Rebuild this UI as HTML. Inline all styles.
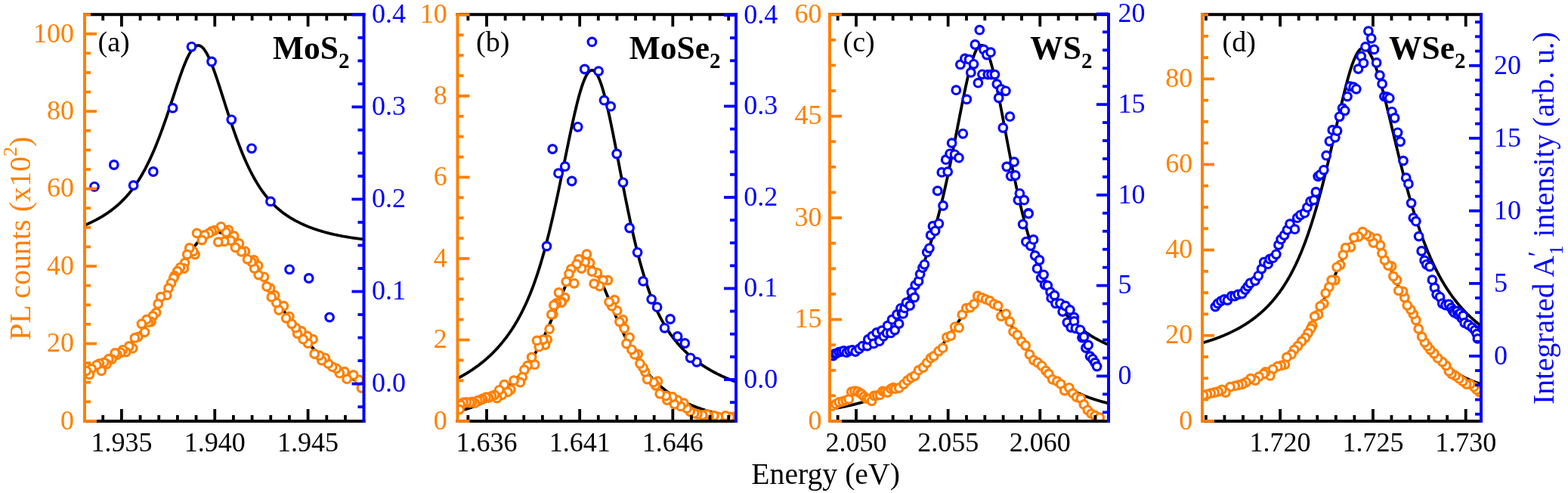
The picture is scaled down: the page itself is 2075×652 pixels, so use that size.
<!DOCTYPE html>
<html><head><meta charset="utf-8"><title>PL spectra</title>
<style>html,body{margin:0;padding:0;background:#fff;}svg{display:block;}</style></head>
<body><svg width="2075" height="652" viewBox="0 0 2075 652" font-family="'Liberation Serif', serif">
<rect width="2075" height="652" fill="#fff"/>
<clipPath id="clip0"><rect x="112" y="19.2" width="369.5" height="537.8"/></clipPath>
<g clip-path="url(#clip0)">
<path d="M110.0,298.8 L111.0,298.4 L112.0,297.9 L113.0,297.5 L114.0,297.1 L115.0,296.6 L116.0,296.2 L117.0,295.8 L118.0,295.3 L119.0,294.8 L120.0,294.4 L121.0,293.9 L122.0,293.4 L123.0,292.9 L124.0,292.4 L125.0,291.9 L126.0,291.4 L127.0,290.9 L128.0,290.3 L129.0,289.8 L130.0,289.2 L131.0,288.7 L132.0,288.1 L133.0,287.5 L134.0,287.0 L135.0,286.4 L136.0,285.8 L137.0,285.1 L138.0,284.5 L139.0,283.9 L140.0,283.2 L141.0,282.6 L142.0,281.9 L143.0,281.2 L144.0,280.5 L145.0,279.8 L146.0,279.1 L147.0,278.4 L148.0,277.6 L149.0,276.8 L150.0,276.1 L151.0,275.3 L152.0,274.5 L153.0,273.6 L154.0,272.8 L155.0,271.9 L156.0,271.1 L157.0,270.2 L158.0,269.3 L159.0,268.3 L160.0,267.4 L161.0,266.4 L162.0,265.4 L163.0,264.4 L164.0,263.4 L165.0,262.4 L166.0,261.3 L167.0,260.2 L168.0,259.1 L169.0,257.9 L170.0,256.8 L171.0,255.6 L172.0,254.3 L173.0,253.1 L174.0,251.8 L175.0,250.5 L176.0,249.2 L177.0,247.8 L178.0,246.4 L179.0,245.0 L180.0,243.6 L181.0,242.1 L182.0,240.6 L183.0,239.0 L184.0,237.5 L185.0,235.8 L186.0,234.2 L187.0,232.5 L188.0,230.8 L189.0,229.0 L190.0,227.2 L191.0,225.4 L192.0,223.6 L193.0,221.7 L194.0,219.7 L195.0,217.7 L196.0,215.7 L197.0,213.7 L198.0,211.6 L199.0,209.4 L200.0,207.3 L201.0,205.0 L202.0,202.8 L203.0,200.5 L204.0,198.2 L205.0,195.8 L206.0,193.4 L207.0,190.9 L208.0,188.4 L209.0,185.9 L210.0,183.4 L211.0,180.7 L212.0,178.1 L213.0,175.4 L214.0,172.7 L215.0,170.0 L216.0,167.2 L217.0,164.4 L218.0,161.6 L219.0,158.7 L220.0,155.8 L221.0,152.9 L222.0,149.9 L223.0,147.0 L224.0,144.0 L225.0,141.0 L226.0,137.9 L227.0,134.9 L228.0,131.9 L229.0,128.8 L230.0,125.8 L231.0,122.8 L232.0,119.7 L233.0,116.7 L234.0,113.7 L235.0,110.7 L236.0,107.8 L237.0,104.8 L238.0,101.9 L239.0,99.1 L240.0,96.3 L241.0,93.5 L242.0,90.9 L243.0,88.2 L244.0,85.7 L245.0,83.2 L246.0,80.9 L247.0,78.6 L248.0,76.4 L249.0,74.3 L250.0,72.4 L251.0,70.6 L252.0,68.9 L253.0,67.3 L254.0,65.9 L255.0,64.6 L256.0,63.5 L257.0,62.5 L258.0,61.7 L259.0,61.1 L260.0,60.6 L261.0,60.3 L262.0,60.1 L263.0,60.2 L264.0,60.4 L265.0,60.8 L266.0,61.3 L267.0,62.0 L268.0,62.9 L269.0,63.9 L270.0,65.1 L271.0,66.5 L272.0,68.0 L273.0,69.6 L274.0,71.4 L275.0,73.3 L276.0,75.4 L277.0,77.5 L278.0,79.8 L279.0,82.1 L280.0,84.6 L281.0,87.2 L282.0,89.8 L283.0,92.5 L284.0,95.3 L285.0,98.2 L286.0,101.1 L287.0,104.0 L288.0,107.0 L289.0,110.1 L290.0,113.1 L291.0,116.2 L292.0,119.3 L293.0,122.5 L294.0,125.6 L295.0,128.7 L296.0,131.9 L297.0,135.0 L298.0,138.2 L299.0,141.3 L300.0,144.4 L301.0,147.5 L302.0,150.6 L303.0,153.7 L304.0,156.7 L305.0,159.8 L306.0,162.7 L307.0,165.7 L308.0,168.6 L309.0,171.5 L310.0,174.4 L311.0,177.2 L312.0,180.0 L313.0,182.8 L314.0,185.5 L315.0,188.2 L316.0,190.8 L317.0,193.4 L318.0,196.0 L319.0,198.5 L320.0,201.0 L321.0,203.4 L322.0,205.8 L323.0,208.2 L324.0,210.5 L325.0,212.8 L326.0,215.0 L327.0,217.2 L328.0,219.3 L329.0,221.4 L330.0,223.5 L331.0,225.5 L332.0,227.5 L333.0,229.4 L334.0,231.3 L335.0,233.2 L336.0,235.0 L337.0,236.8 L338.0,238.5 L339.0,240.2 L340.0,241.9 L341.0,243.5 L342.0,245.1 L343.0,246.7 L344.0,248.2 L345.0,249.7 L346.0,251.2 L347.0,252.6 L348.0,254.0 L349.0,255.3 L350.0,256.7 L351.0,258.0 L352.0,259.2 L353.0,260.5 L354.0,261.7 L355.0,262.9 L356.0,264.0 L357.0,265.2 L358.0,266.3 L359.0,267.3 L360.0,268.4 L361.0,269.4 L362.0,270.4 L363.0,271.4 L364.0,272.4 L365.0,273.3 L366.0,274.3 L367.0,275.2 L368.0,276.0 L369.0,276.9 L370.0,277.7 L371.0,278.6 L372.0,279.4 L373.0,280.2 L374.0,280.9 L375.0,281.7 L376.0,282.4 L377.0,283.1 L378.0,283.9 L379.0,284.5 L380.0,285.2 L381.0,285.9 L382.0,286.5 L383.0,287.2 L384.0,287.8 L385.0,288.4 L386.0,289.0 L387.0,289.6 L388.0,290.2 L389.0,290.8 L390.0,291.3 L391.0,291.9 L392.0,292.4 L393.0,292.9 L394.0,293.4 L395.0,293.9 L396.0,294.4 L397.0,294.9 L398.0,295.4 L399.0,295.9 L400.0,296.3 L401.0,296.8 L402.0,297.2 L403.0,297.7 L404.0,298.1 L405.0,298.5 L406.0,298.9 L407.0,299.4 L408.0,299.8 L409.0,300.2 L410.0,300.5 L411.0,300.9 L412.0,301.3 L413.0,301.7 L414.0,302.0 L415.0,302.4 L416.0,302.7 L417.0,303.1 L418.0,303.4 L419.0,303.7 L420.0,304.1 L421.0,304.4 L422.0,304.7 L423.0,305.0 L424.0,305.3 L425.0,305.6 L426.0,305.9 L427.0,306.2 L428.0,306.5 L429.0,306.8 L430.0,307.1 L431.0,307.3 L432.0,307.6 L433.0,307.9 L434.0,308.1 L435.0,308.4 L436.0,308.6 L437.0,308.9 L438.0,309.1 L439.0,309.3 L440.0,309.6 L441.0,309.8 L442.0,310.0 L443.0,310.3 L444.0,310.5 L445.0,310.7 L446.0,310.9 L447.0,311.1 L448.0,311.3 L449.0,311.5 L450.0,311.7 L451.0,311.9 L452.0,312.1 L453.0,312.3 L454.0,312.5 L455.0,312.7 L456.0,312.8 L457.0,313.0 L458.0,313.2 L459.0,313.4 L460.0,313.5 L461.0,313.7 L462.0,313.8 L463.0,314.0 L464.0,314.2 L465.0,314.3 L466.0,314.5 L467.0,314.6 L468.0,314.8 L469.0,314.9 L470.0,315.0 L471.0,315.2 L472.0,315.3 L473.0,315.4 L474.0,315.6 L475.0,315.7 L476.0,315.8 L477.0,316.0 L478.0,316.1 L479.0,316.2 L480.0,316.3 L481.0,316.4 L482.0,316.6 L483.0,316.7" fill="none" stroke="#000" stroke-width="3.8" stroke-linejoin="round"/>
<path d="M110.0,491.9 L111.0,491.6 L112.0,491.4 L113.0,491.1 L114.0,490.8 L115.0,490.5 L116.0,490.2 L117.0,489.9 L118.0,489.6 L119.0,489.3 L120.0,489.0 L121.0,488.7 L122.0,488.3 L123.0,488.0 L124.0,487.6 L125.0,487.3 L126.0,486.9 L127.0,486.5 L128.0,486.1 L129.0,485.7 L130.0,485.3 L131.0,484.8 L132.0,484.4 L133.0,483.9 L134.0,483.5 L135.0,483.0 L136.0,482.5 L137.0,482.0 L138.0,481.5 L139.0,481.0 L140.0,480.4 L141.0,479.9 L142.0,479.3 L143.0,478.7 L144.0,478.2 L145.0,477.5 L146.0,476.9 L147.0,476.3 L148.0,475.7 L149.0,475.0 L150.0,474.3 L151.0,473.6 L152.0,472.9 L153.0,472.2 L154.0,471.5 L155.0,470.7 L156.0,470.0 L157.0,469.2 L158.0,468.4 L159.0,467.6 L160.0,466.8 L161.0,465.9 L162.0,465.1 L163.0,464.2 L164.0,463.3 L165.0,462.4 L166.0,461.5 L167.0,460.5 L168.0,459.6 L169.0,458.6 L170.0,457.6 L171.0,456.6 L172.0,455.6 L173.0,454.5 L174.0,453.4 L175.0,452.4 L176.0,451.3 L177.0,450.2 L178.0,449.0 L179.0,447.9 L180.0,446.7 L181.0,445.5 L182.0,444.3 L183.0,443.1 L184.0,441.9 L185.0,440.6 L186.0,439.3 L187.0,438.0 L188.0,436.7 L189.0,435.4 L190.0,434.1 L191.0,432.7 L192.0,431.3 L193.0,429.9 L194.0,428.5 L195.0,427.1 L196.0,425.7 L197.0,424.2 L198.0,422.7 L199.0,421.3 L200.0,419.8 L201.0,418.2 L202.0,416.7 L203.0,415.2 L204.0,413.6 L205.0,412.0 L206.0,410.4 L207.0,408.8 L208.0,407.2 L209.0,405.6 L210.0,404.0 L211.0,402.3 L212.0,400.7 L213.0,399.0 L214.0,397.3 L215.0,395.6 L216.0,393.9 L217.0,392.2 L218.0,390.5 L219.0,388.8 L220.0,387.1 L221.0,385.3 L222.0,383.6 L223.0,381.9 L224.0,380.1 L225.0,378.4 L226.0,376.6 L227.0,374.9 L228.0,373.1 L229.0,371.4 L230.0,369.6 L231.0,367.9 L232.0,366.1 L233.0,364.4 L234.0,362.6 L235.0,360.9 L236.0,359.2 L237.0,357.5 L238.0,355.7 L239.0,354.0 L240.0,352.3 L241.0,350.7 L242.0,349.0 L243.0,347.3 L244.0,345.7 L245.0,344.1 L246.0,342.5 L247.0,340.9 L248.0,339.3 L249.0,337.8 L250.0,336.2 L251.0,334.7 L252.0,333.3 L253.0,331.8 L254.0,330.4 L255.0,329.0 L256.0,327.6 L257.0,326.3 L258.0,325.0 L259.0,323.7 L260.0,322.5 L261.0,321.3 L262.0,320.2 L263.0,319.0 L264.0,318.0 L265.0,316.9 L266.0,315.9 L267.0,315.0 L268.0,314.1 L269.0,313.2 L270.0,312.4 L271.0,311.7 L272.0,311.0 L273.0,310.3 L274.0,309.7 L275.0,309.1 L276.0,308.6 L277.0,308.2 L278.0,307.8 L279.0,307.4 L280.0,307.2 L281.0,306.9 L282.0,306.7 L283.0,306.6 L284.0,306.6 L285.0,306.6 L286.0,306.6 L287.0,306.7 L288.0,306.8 L289.0,307.0 L290.0,307.2 L291.0,307.5 L292.0,307.7 L293.0,308.1 L294.0,308.4 L295.0,308.8 L296.0,309.3 L297.0,309.7 L298.0,310.2 L299.0,310.8 L300.0,311.4 L301.0,312.0 L302.0,312.6 L303.0,313.3 L304.0,314.0 L305.0,314.8 L306.0,315.6 L307.0,316.4 L308.0,317.2 L309.0,318.1 L310.0,319.0 L311.0,320.0 L312.0,320.9 L313.0,321.9 L314.0,322.9 L315.0,324.0 L316.0,325.1 L317.0,326.2 L318.0,327.3 L319.0,328.4 L320.0,329.6 L321.0,330.8 L322.0,332.0 L323.0,333.3 L324.0,334.5 L325.0,335.8 L326.0,337.1 L327.0,338.4 L328.0,339.7 L329.0,341.1 L330.0,342.5 L331.0,343.8 L332.0,345.2 L333.0,346.6 L334.0,348.1 L335.0,349.5 L336.0,350.9 L337.0,352.4 L338.0,353.8 L339.0,355.3 L340.0,356.8 L341.0,358.3 L342.0,359.8 L343.0,361.3 L344.0,362.8 L345.0,364.3 L346.0,365.9 L347.0,367.4 L348.0,368.9 L349.0,370.5 L350.0,372.0 L351.0,373.6 L352.0,375.1 L353.0,376.6 L354.0,378.2 L355.0,379.7 L356.0,381.3 L357.0,382.8 L358.0,384.4 L359.0,385.9 L360.0,387.5 L361.0,389.0 L362.0,390.6 L363.0,392.1 L364.0,393.6 L365.0,395.2 L366.0,396.7 L367.0,398.2 L368.0,399.7 L369.0,401.3 L370.0,402.8 L371.0,404.3 L372.0,405.8 L373.0,407.3 L374.0,408.7 L375.0,410.2 L376.0,411.7 L377.0,413.2 L378.0,414.6 L379.0,416.1 L380.0,417.5 L381.0,418.9 L382.0,420.3 L383.0,421.8 L384.0,423.2 L385.0,424.6 L386.0,425.9 L387.0,427.3 L388.0,428.7 L389.0,430.0 L390.0,431.4 L391.0,432.7 L392.0,434.1 L393.0,435.4 L394.0,436.7 L395.0,438.0 L396.0,439.2 L397.0,440.5 L398.0,441.8 L399.0,443.0 L400.0,444.3 L401.0,445.5 L402.0,446.7 L403.0,447.9 L404.0,449.1 L405.0,450.3 L406.0,451.5 L407.0,452.6 L408.0,453.8 L409.0,454.9 L410.0,456.0 L411.0,457.1 L412.0,458.2 L413.0,459.3 L414.0,460.4 L415.0,461.5 L416.0,462.5 L417.0,463.6 L418.0,464.6 L419.0,465.6 L420.0,466.6 L421.0,467.6 L422.0,468.6 L423.0,469.5 L424.0,470.5 L425.0,471.4 L426.0,472.4 L427.0,473.3 L428.0,474.2 L429.0,475.1 L430.0,476.0 L431.0,476.9 L432.0,477.7 L433.0,478.6 L434.0,479.4 L435.0,480.2 L436.0,481.0 L437.0,481.9 L438.0,482.7 L439.0,483.4 L440.0,484.2 L441.0,485.0 L442.0,485.7 L443.0,486.5 L444.0,487.2 L445.0,487.9 L446.0,488.6 L447.0,489.3 L448.0,490.0 L449.0,490.7 L450.0,491.4 L451.0,492.0 L452.0,492.7 L453.0,493.3 L454.0,493.9 L455.0,494.5 L456.0,495.2 L457.0,495.8 L458.0,496.4 L459.0,496.9 L460.0,497.5 L461.0,498.1 L462.0,498.6 L463.0,499.2 L464.0,499.7 L465.0,500.2 L466.0,500.8 L467.0,501.3 L468.0,501.8 L469.0,502.3 L470.0,502.8 L471.0,503.3 L472.0,503.7 L473.0,504.2 L474.0,504.7 L475.0,505.1 L476.0,505.6 L477.0,506.0 L478.0,506.4 L479.0,506.8 L480.0,507.3 L481.0,507.7 L482.0,508.1 L483.0,508.5" fill="none" stroke="#000" stroke-width="3.8" stroke-linejoin="round"/>
<g fill="#fff" stroke="#FF8000" stroke-width="3.2">
<circle cx="478.4" cy="513.0" r="5.3"/>
<circle cx="475.2" cy="502.3" r="5.3"/>
<circle cx="467.7" cy="495.9" r="5.3"/>
<circle cx="459.1" cy="501.2" r="5.3"/>
<circle cx="455.9" cy="491.6" r="5.3"/>
<circle cx="449.4" cy="493.7" r="5.3"/>
<circle cx="445.2" cy="487.3" r="5.3"/>
<circle cx="439.8" cy="485.2" r="5.3"/>
<circle cx="434.4" cy="480.9" r="5.3"/>
<circle cx="430.1" cy="473.3" r="5.3"/>
<circle cx="425.8" cy="476.6" r="5.3"/>
<circle cx="422.6" cy="470.1" r="5.3"/>
<circle cx="416.2" cy="468.0" r="5.3"/>
<circle cx="414.0" cy="448.7" r="5.3"/>
<circle cx="407.6" cy="454.0" r="5.3"/>
<circle cx="406.5" cy="444.4" r="5.3"/>
<circle cx="401.2" cy="448.7" r="5.3"/>
<circle cx="399.0" cy="438.0" r="5.3"/>
<circle cx="393.6" cy="441.2" r="5.3"/>
<circle cx="391.5" cy="433.6" r="5.3"/>
<circle cx="386.1" cy="428.3" r="5.3"/>
<circle cx="382.9" cy="418.6" r="5.3"/>
<circle cx="378.6" cy="420.8" r="5.3"/>
<circle cx="375.4" cy="404.7" r="5.3"/>
<circle cx="369.0" cy="410.0" r="5.3"/>
<circle cx="365.8" cy="400.4" r="5.3"/>
<circle cx="363.6" cy="390.7" r="5.3"/>
<circle cx="359.3" cy="392.9" r="5.3"/>
<circle cx="357.6" cy="381.2" r="5.3"/>
<circle cx="353.0" cy="378.9" r="5.3"/>
<circle cx="349.5" cy="366.3" r="5.3"/>
<circle cx="342.2" cy="363.6" r="5.3"/>
<circle cx="341.6" cy="351.3" r="5.3"/>
<circle cx="336.7" cy="355.0" r="5.3"/>
<circle cx="336.0" cy="344.0" r="5.3"/>
<circle cx="333.0" cy="346.4" r="5.3"/>
<circle cx="327.5" cy="342.8" r="5.3"/>
<circle cx="324.4" cy="332.3" r="5.3"/>
<circle cx="319.5" cy="332.9" r="5.3"/>
<circle cx="316.4" cy="321.9" r="5.3"/>
<circle cx="311.5" cy="327.4" r="5.3"/>
<circle cx="309.7" cy="312.1" r="5.3"/>
<circle cx="305.4" cy="318.2" r="5.3"/>
<circle cx="302.3" cy="304.1" r="5.3"/>
<circle cx="299.2" cy="307.2" r="5.3"/>
<circle cx="296.8" cy="319.4" r="5.3"/>
<circle cx="292.5" cy="299.8" r="5.3"/>
<circle cx="288.8" cy="320.1" r="5.3"/>
<circle cx="283.9" cy="304.7" r="5.3"/>
<circle cx="280.2" cy="306.0" r="5.3"/>
<circle cx="276.5" cy="308.4" r="5.3"/>
<circle cx="271.0" cy="310.9" r="5.3"/>
<circle cx="267.3" cy="317.6" r="5.3"/>
<circle cx="260.6" cy="308.4" r="5.3"/>
<circle cx="258.1" cy="336.6" r="5.3"/>
<circle cx="255.7" cy="332.3" r="5.3"/>
<circle cx="250.8" cy="328.0" r="5.3"/>
<circle cx="247.7" cy="336.6" r="5.3"/>
<circle cx="244.6" cy="347.7" r="5.3"/>
<circle cx="243.4" cy="355.0" r="5.3"/>
<circle cx="238.5" cy="353.8" r="5.3"/>
<circle cx="234.8" cy="358.7" r="5.3"/>
<circle cx="231.1" cy="364.8" r="5.3"/>
<circle cx="229.9" cy="367.4" r="5.3"/>
<circle cx="226.5" cy="374.3" r="5.3"/>
<circle cx="223.0" cy="381.2" r="5.3"/>
<circle cx="220.7" cy="390.4" r="5.3"/>
<circle cx="212.7" cy="392.7" r="5.3"/>
<circle cx="209.2" cy="401.9" r="5.3"/>
<circle cx="206.6" cy="413.4" r="5.3"/>
<circle cx="202.3" cy="418.0" r="5.3"/>
<circle cx="199.9" cy="425.5" r="5.3"/>
<circle cx="196.4" cy="426.2" r="5.3"/>
<circle cx="194.0" cy="422.6" r="5.3"/>
<circle cx="191.6" cy="439.3" r="5.3"/>
<circle cx="187.4" cy="428.3" r="5.3"/>
<circle cx="182.6" cy="445.6" r="5.3"/>
<circle cx="178.4" cy="446.9" r="5.3"/>
<circle cx="175.7" cy="460.7" r="5.3"/>
<circle cx="170.8" cy="458.0" r="5.3"/>
<circle cx="166.7" cy="465.6" r="5.3"/>
<circle cx="162.6" cy="462.8" r="5.3"/>
<circle cx="159.8" cy="466.3" r="5.3"/>
<circle cx="155.0" cy="469.0" r="5.3"/>
<circle cx="152.2" cy="467.0" r="5.3"/>
<circle cx="148.0" cy="475.2" r="5.3"/>
<circle cx="143.9" cy="474.6" r="5.3"/>
<circle cx="141.1" cy="481.5" r="5.3"/>
<circle cx="137.7" cy="479.4" r="5.3"/>
<circle cx="134.2" cy="490.4" r="5.3"/>
<circle cx="131.5" cy="480.8" r="5.3"/>
<circle cx="128.0" cy="482.8" r="5.3"/>
<circle cx="121.1" cy="487.7" r="5.3"/>
<circle cx="118.4" cy="495.3" r="5.3"/>
<circle cx="114.2" cy="490.4" r="5.3"/>
</g>
<g fill="#fff" stroke="#0000FF" stroke-width="3.2">
<circle cx="436.1" cy="419.6" r="5.3"/>
<circle cx="408.7" cy="368.0" r="5.3"/>
<circle cx="383.1" cy="356.3" r="5.3"/>
<circle cx="358.0" cy="266.4" r="5.3"/>
<circle cx="333.0" cy="196.3" r="5.3"/>
<circle cx="306.3" cy="158.3" r="5.3"/>
<circle cx="280.1" cy="81.5" r="5.3"/>
<circle cx="253.5" cy="61.8" r="5.3"/>
<circle cx="228.6" cy="142.9" r="5.3"/>
<circle cx="202.8" cy="227.0" r="5.3"/>
<circle cx="176.6" cy="245.1" r="5.3"/>
<circle cx="150.8" cy="218.0" r="5.3"/>
<circle cx="125.0" cy="246.8" r="5.3"/>
</g>
</g>
<rect x="110.00" y="17.20" width="373.50" height="4.00" fill="#000"/>
<rect x="110.00" y="555.00" width="373.50" height="4.00" fill="#000"/>
<rect x="134.33" y="549.00" width="3.80" height="8.00" fill="#000"/>
<rect x="134.33" y="19.20" width="3.80" height="8.00" fill="#000"/>
<rect x="159.00" y="541.00" width="3.80" height="16.00" fill="#000"/>
<rect x="159.00" y="19.20" width="3.80" height="16.00" fill="#000"/>
<rect x="183.67" y="549.00" width="3.80" height="8.00" fill="#000"/>
<rect x="183.67" y="19.20" width="3.80" height="8.00" fill="#000"/>
<rect x="208.34" y="549.00" width="3.80" height="8.00" fill="#000"/>
<rect x="208.34" y="19.20" width="3.80" height="8.00" fill="#000"/>
<rect x="233.01" y="549.00" width="3.80" height="8.00" fill="#000"/>
<rect x="233.01" y="19.20" width="3.80" height="8.00" fill="#000"/>
<rect x="257.68" y="549.00" width="3.80" height="8.00" fill="#000"/>
<rect x="257.68" y="19.20" width="3.80" height="8.00" fill="#000"/>
<rect x="282.35" y="541.00" width="3.80" height="16.00" fill="#000"/>
<rect x="282.35" y="19.20" width="3.80" height="16.00" fill="#000"/>
<rect x="307.02" y="549.00" width="3.80" height="8.00" fill="#000"/>
<rect x="307.02" y="19.20" width="3.80" height="8.00" fill="#000"/>
<rect x="331.69" y="549.00" width="3.80" height="8.00" fill="#000"/>
<rect x="331.69" y="19.20" width="3.80" height="8.00" fill="#000"/>
<rect x="356.36" y="549.00" width="3.80" height="8.00" fill="#000"/>
<rect x="356.36" y="19.20" width="3.80" height="8.00" fill="#000"/>
<rect x="381.03" y="549.00" width="3.80" height="8.00" fill="#000"/>
<rect x="381.03" y="19.20" width="3.80" height="8.00" fill="#000"/>
<rect x="405.70" y="541.00" width="3.80" height="16.00" fill="#000"/>
<rect x="405.70" y="19.20" width="3.80" height="16.00" fill="#000"/>
<rect x="430.37" y="549.00" width="3.80" height="8.00" fill="#000"/>
<rect x="430.37" y="19.20" width="3.80" height="8.00" fill="#000"/>
<rect x="455.04" y="549.00" width="3.80" height="8.00" fill="#000"/>
<rect x="455.04" y="19.20" width="3.80" height="8.00" fill="#000"/>
<rect x="110.00" y="17.20" width="4.00" height="541.80" fill="#FF8000"/>
<rect x="112.00" y="555.00" width="16.00" height="3.80" fill="#FF8000"/>
<rect x="112.00" y="529.39" width="8.00" height="3.80" fill="#FF8000"/>
<rect x="112.00" y="503.79" width="8.00" height="3.80" fill="#FF8000"/>
<rect x="112.00" y="478.19" width="8.00" height="3.80" fill="#FF8000"/>
<rect x="112.00" y="452.58" width="16.00" height="3.80" fill="#FF8000"/>
<rect x="112.00" y="426.98" width="8.00" height="3.80" fill="#FF8000"/>
<rect x="112.00" y="401.37" width="8.00" height="3.80" fill="#FF8000"/>
<rect x="112.00" y="375.76" width="8.00" height="3.80" fill="#FF8000"/>
<rect x="112.00" y="350.16" width="16.00" height="3.80" fill="#FF8000"/>
<rect x="112.00" y="324.55" width="8.00" height="3.80" fill="#FF8000"/>
<rect x="112.00" y="298.95" width="8.00" height="3.80" fill="#FF8000"/>
<rect x="112.00" y="273.34" width="8.00" height="3.80" fill="#FF8000"/>
<rect x="112.00" y="247.74" width="16.00" height="3.80" fill="#FF8000"/>
<rect x="112.00" y="222.13" width="8.00" height="3.80" fill="#FF8000"/>
<rect x="112.00" y="196.53" width="8.00" height="3.80" fill="#FF8000"/>
<rect x="112.00" y="170.92" width="8.00" height="3.80" fill="#FF8000"/>
<rect x="112.00" y="145.32" width="16.00" height="3.80" fill="#FF8000"/>
<rect x="112.00" y="119.71" width="8.00" height="3.80" fill="#FF8000"/>
<rect x="112.00" y="94.11" width="8.00" height="3.80" fill="#FF8000"/>
<rect x="112.00" y="68.50" width="8.00" height="3.80" fill="#FF8000"/>
<rect x="112.00" y="42.90" width="16.00" height="3.80" fill="#FF8000"/>
<rect x="112.00" y="17.29" width="8.00" height="3.80" fill="#FF8000"/>
<rect x="479.50" y="17.20" width="4.00" height="541.80" fill="#0000FF"/>
<rect x="473.50" y="536.22" width="8.00" height="3.80" fill="#0000FF"/>
<rect x="465.50" y="505.70" width="16.00" height="3.80" fill="#0000FF"/>
<rect x="473.50" y="475.19" width="8.00" height="3.80" fill="#0000FF"/>
<rect x="473.50" y="444.67" width="8.00" height="3.80" fill="#0000FF"/>
<rect x="473.50" y="414.16" width="8.00" height="3.80" fill="#0000FF"/>
<rect x="465.50" y="383.64" width="16.00" height="3.80" fill="#0000FF"/>
<rect x="473.50" y="353.12" width="8.00" height="3.80" fill="#0000FF"/>
<rect x="473.50" y="322.61" width="8.00" height="3.80" fill="#0000FF"/>
<rect x="473.50" y="292.10" width="8.00" height="3.80" fill="#0000FF"/>
<rect x="465.50" y="261.58" width="16.00" height="3.80" fill="#0000FF"/>
<rect x="473.50" y="231.07" width="8.00" height="3.80" fill="#0000FF"/>
<rect x="473.50" y="200.55" width="8.00" height="3.80" fill="#0000FF"/>
<rect x="473.50" y="170.03" width="8.00" height="3.80" fill="#0000FF"/>
<rect x="465.50" y="139.52" width="16.00" height="3.80" fill="#0000FF"/>
<rect x="473.50" y="109.01" width="8.00" height="3.80" fill="#0000FF"/>
<rect x="473.50" y="78.49" width="8.00" height="3.80" fill="#0000FF"/>
<rect x="473.50" y="47.98" width="8.00" height="3.80" fill="#0000FF"/>
<rect x="465.50" y="17.46" width="16.00" height="3.80" fill="#0000FF"/>
<text x="160.9" y="596.5" text-anchor="middle" font-size="36">1.935</text>
<text x="284.2" y="596.5" text-anchor="middle" font-size="36">1.940</text>
<text x="407.6" y="596.5" text-anchor="middle" font-size="36">1.945</text>
<text x="98.0" y="567.6" text-anchor="end" font-size="36" fill="#FF8000">0</text>
<text x="98.0" y="465.2" text-anchor="end" font-size="36" fill="#FF8000">20</text>
<text x="98.0" y="362.8" text-anchor="end" font-size="36" fill="#FF8000">40</text>
<text x="98.0" y="260.3" text-anchor="end" font-size="36" fill="#FF8000">60</text>
<text x="98.0" y="157.9" text-anchor="end" font-size="36" fill="#FF8000">80</text>
<text x="98.0" y="55.5" text-anchor="end" font-size="36" fill="#FF8000">100</text>
<text x="492.0" y="518.3" font-size="36" fill="#0000FF">0.0</text>
<text x="492.0" y="396.2" font-size="36" fill="#0000FF">0.1</text>
<text x="492.0" y="274.2" font-size="36" fill="#0000FF">0.2</text>
<text x="492.0" y="152.1" font-size="36" fill="#0000FF">0.3</text>
<text x="492.0" y="30.1" font-size="36" fill="#0000FF">0.4</text>
<text x="129.5" y="67.5" font-size="38">(a)</text>
<text x="462.5" y="78.4" text-anchor="end" font-size="43.5" font-weight="bold">MoS<tspan font-size="29" dy="11.5">2</tspan></text>
<clipPath id="clip1"><rect x="605.5" y="19.2" width="368.5" height="537.8"/></clipPath>
<g clip-path="url(#clip1)">
<path d="M603.5,501.4 L604.5,500.9 L605.5,500.4 L606.5,499.9 L607.5,499.4 L608.5,498.8 L609.5,498.3 L610.5,497.8 L611.5,497.2 L612.5,496.6 L613.5,496.1 L614.5,495.5 L615.5,494.9 L616.5,494.3 L617.5,493.7 L618.5,493.1 L619.5,492.5 L620.5,491.9 L621.5,491.2 L622.5,490.6 L623.5,489.9 L624.5,489.3 L625.5,488.6 L626.5,487.9 L627.5,487.2 L628.5,486.6 L629.5,485.8 L630.5,485.1 L631.5,484.4 L632.5,483.7 L633.5,482.9 L634.5,482.1 L635.5,481.4 L636.5,480.6 L637.5,479.8 L638.5,479.0 L639.5,478.2 L640.5,477.3 L641.5,476.5 L642.5,475.7 L643.5,474.8 L644.5,473.9 L645.5,473.0 L646.5,472.1 L647.5,471.2 L648.5,470.3 L649.5,469.3 L650.5,468.3 L651.5,467.4 L652.5,466.4 L653.5,465.4 L654.5,464.3 L655.5,463.3 L656.5,462.2 L657.5,461.2 L658.5,460.1 L659.5,459.0 L660.5,457.8 L661.5,456.7 L662.5,455.5 L663.5,454.3 L664.5,453.1 L665.5,451.9 L666.5,450.7 L667.5,449.4 L668.5,448.1 L669.5,446.8 L670.5,445.5 L671.5,444.1 L672.5,442.7 L673.5,441.3 L674.5,439.9 L675.5,438.5 L676.5,437.0 L677.5,435.5 L678.5,433.9 L679.5,432.4 L680.5,430.8 L681.5,429.1 L682.5,427.5 L683.5,425.8 L684.5,424.1 L685.5,422.3 L686.5,420.5 L687.5,418.7 L688.5,416.8 L689.5,414.9 L690.5,413.0 L691.5,411.0 L692.5,409.0 L693.5,406.9 L694.5,404.8 L695.5,402.7 L696.5,400.5 L697.5,398.3 L698.5,396.0 L699.5,393.6 L700.5,391.2 L701.5,388.8 L702.5,386.3 L703.5,383.8 L704.5,381.2 L705.5,378.5 L706.5,375.8 L707.5,373.0 L708.5,370.2 L709.5,367.3 L710.5,364.3 L711.5,361.3 L712.5,358.2 L713.5,355.1 L714.5,351.9 L715.5,348.6 L716.5,345.3 L717.5,341.8 L718.5,338.4 L719.5,334.8 L720.5,331.2 L721.5,327.5 L722.5,323.8 L723.5,319.9 L724.5,316.1 L725.5,312.1 L726.5,308.1 L727.5,304.0 L728.5,299.8 L729.5,295.6 L730.5,291.3 L731.5,287.0 L732.5,282.6 L733.5,278.1 L734.5,273.6 L735.5,269.1 L736.5,264.5 L737.5,259.8 L738.5,255.1 L739.5,250.3 L740.5,245.6 L741.5,240.7 L742.5,235.9 L743.5,231.0 L744.5,226.1 L745.5,221.2 L746.5,216.3 L747.5,211.4 L748.5,206.5 L749.5,201.6 L750.5,196.7 L751.5,191.8 L752.5,186.9 L753.5,182.1 L754.5,177.4 L755.5,172.6 L756.5,167.9 L757.5,163.3 L758.5,158.8 L759.5,154.3 L760.5,149.9 L761.5,145.7 L762.5,141.5 L763.5,137.4 L764.5,133.5 L765.5,129.7 L766.5,126.0 L767.5,122.5 L768.5,119.1 L769.5,115.9 L770.5,112.8 L771.5,110.0 L772.5,107.3 L773.5,104.9 L774.5,102.6 L775.5,100.6 L776.5,98.8 L777.5,97.2 L778.5,95.9 L779.5,94.8 L780.5,93.9 L781.5,93.3 L782.5,93.0 L783.5,92.9 L784.5,93.0 L785.5,93.4 L786.5,94.1 L787.5,95.0 L788.5,96.2 L789.5,97.6 L790.5,99.3 L791.5,101.2 L792.5,103.4 L793.5,105.8 L794.5,108.4 L795.5,111.2 L796.5,114.2 L797.5,117.5 L798.5,120.9 L799.5,124.5 L800.5,128.2 L801.5,132.2 L802.5,136.3 L803.5,140.5 L804.5,144.8 L805.5,149.3 L806.5,153.9 L807.5,158.6 L808.5,163.4 L809.5,168.3 L810.5,173.2 L811.5,178.2 L812.5,183.3 L813.5,188.4 L814.5,193.5 L815.5,198.7 L816.5,203.9 L817.5,209.1 L818.5,214.4 L819.5,219.6 L820.5,224.8 L821.5,230.0 L822.5,235.2 L823.5,240.4 L824.5,245.6 L825.5,250.7 L826.5,255.8 L827.5,260.8 L828.5,265.8 L829.5,270.7 L830.5,275.6 L831.5,280.5 L832.5,285.2 L833.5,290.0 L834.5,294.6 L835.5,299.2 L836.5,303.7 L837.5,308.1 L838.5,312.5 L839.5,316.8 L840.5,321.0 L841.5,325.2 L842.5,329.2 L843.5,333.2 L844.5,337.1 L845.5,341.0 L846.5,344.7 L847.5,348.4 L848.5,352.0 L849.5,355.5 L850.5,359.0 L851.5,362.3 L852.5,365.6 L853.5,368.8 L854.5,372.0 L855.5,375.0 L856.5,378.0 L857.5,380.9 L858.5,383.8 L859.5,386.6 L860.5,389.3 L861.5,391.9 L862.5,394.5 L863.5,397.1 L864.5,399.5 L865.5,401.9 L866.5,404.3 L867.5,406.5 L868.5,408.8 L869.5,410.9 L870.5,413.1 L871.5,415.1 L872.5,417.1 L873.5,419.1 L874.5,421.0 L875.5,422.9 L876.5,424.7 L877.5,426.5 L878.5,428.3 L879.5,430.0 L880.5,431.6 L881.5,433.3 L882.5,434.8 L883.5,436.4 L884.5,437.9 L885.5,439.4 L886.5,440.9 L887.5,442.3 L888.5,443.7 L889.5,445.0 L890.5,446.4 L891.5,447.7 L892.5,448.9 L893.5,450.2 L894.5,451.4 L895.5,452.6 L896.5,453.8 L897.5,455.0 L898.5,456.1 L899.5,457.2 L900.5,458.3 L901.5,459.4 L902.5,460.4 L903.5,461.5 L904.5,462.5 L905.5,463.5 L906.5,464.5 L907.5,465.4 L908.5,466.4 L909.5,467.3 L910.5,468.2 L911.5,469.1 L912.5,470.0 L913.5,470.8 L914.5,471.7 L915.5,472.5 L916.5,473.4 L917.5,474.2 L918.5,475.0 L919.5,475.8 L920.5,476.5 L921.5,477.3 L922.5,478.0 L923.5,478.8 L924.5,479.5 L925.5,480.2 L926.5,480.9 L927.5,481.6 L928.5,482.3 L929.5,483.0 L930.5,483.6 L931.5,484.3 L932.5,484.9 L933.5,485.6 L934.5,486.2 L935.5,486.8 L936.5,487.4 L937.5,488.0 L938.5,488.6 L939.5,489.2 L940.5,489.8 L941.5,490.3 L942.5,490.9 L943.5,491.4 L944.5,492.0 L945.5,492.5 L946.5,493.0 L947.5,493.5 L948.5,494.1 L949.5,494.6 L950.5,495.1 L951.5,495.5 L952.5,496.0 L953.5,496.5 L954.5,497.0 L955.5,497.4 L956.5,497.9 L957.5,498.3 L958.5,498.8 L959.5,499.2 L960.5,499.7 L961.5,500.1 L962.5,500.5 L963.5,500.9 L964.5,501.3 L965.5,501.7 L966.5,502.1 L967.5,502.5 L968.5,502.9 L969.5,503.3 L970.5,503.7 L971.5,504.1 L972.5,504.4 L973.5,504.8 L974.5,505.1 L975.5,505.5" fill="none" stroke="#000" stroke-width="3.8" stroke-linejoin="round"/>
<path d="M603.5,544.9 L604.5,544.6 L605.5,544.4 L606.5,544.1 L607.5,543.8 L608.5,543.6 L609.5,543.3 L610.5,543.0 L611.5,542.7 L612.5,542.4 L613.5,542.1 L614.5,541.8 L615.5,541.5 L616.5,541.2 L617.5,540.9 L618.5,540.6 L619.5,540.3 L620.5,539.9 L621.5,539.6 L622.5,539.2 L623.5,538.9 L624.5,538.5 L625.5,538.2 L626.5,537.8 L627.5,537.4 L628.5,537.1 L629.5,536.7 L630.5,536.3 L631.5,535.9 L632.5,535.5 L633.5,535.1 L634.5,534.7 L635.5,534.2 L636.5,533.8 L637.5,533.4 L638.5,532.9 L639.5,532.5 L640.5,532.0 L641.5,531.5 L642.5,531.0 L643.5,530.5 L644.5,530.0 L645.5,529.5 L646.5,529.0 L647.5,528.5 L648.5,528.0 L649.5,527.4 L650.5,526.8 L651.5,526.3 L652.5,525.7 L653.5,525.1 L654.5,524.5 L655.5,523.9 L656.5,523.3 L657.5,522.6 L658.5,522.0 L659.5,521.3 L660.5,520.7 L661.5,520.0 L662.5,519.3 L663.5,518.6 L664.5,517.9 L665.5,517.1 L666.5,516.4 L667.5,515.6 L668.5,514.8 L669.5,514.0 L670.5,513.2 L671.5,512.4 L672.5,511.5 L673.5,510.7 L674.5,509.8 L675.5,508.9 L676.5,508.0 L677.5,507.0 L678.5,506.1 L679.5,505.1 L680.5,504.1 L681.5,503.1 L682.5,502.1 L683.5,501.0 L684.5,500.0 L685.5,498.9 L686.5,497.7 L687.5,496.6 L688.5,495.4 L689.5,494.3 L690.5,493.0 L691.5,491.8 L692.5,490.6 L693.5,489.3 L694.5,488.0 L695.5,486.6 L696.5,485.3 L697.5,483.9 L698.5,482.5 L699.5,481.0 L700.5,479.5 L701.5,478.0 L702.5,476.5 L703.5,475.0 L704.5,473.4 L705.5,471.8 L706.5,470.1 L707.5,468.4 L708.5,466.7 L709.5,465.0 L710.5,463.2 L711.5,461.4 L712.5,459.6 L713.5,457.7 L714.5,455.8 L715.5,453.8 L716.5,451.9 L717.5,449.9 L718.5,447.9 L719.5,445.8 L720.5,443.7 L721.5,441.6 L722.5,439.4 L723.5,437.3 L724.5,435.0 L725.5,432.8 L726.5,430.5 L727.5,428.3 L728.5,425.9 L729.5,423.6 L730.5,421.3 L731.5,418.9 L732.5,416.5 L733.5,414.1 L734.5,411.6 L735.5,409.2 L736.5,406.8 L737.5,404.3 L738.5,401.8 L739.5,399.4 L740.5,396.9 L741.5,394.5 L742.5,392.0 L743.5,389.6 L744.5,387.2 L745.5,384.8 L746.5,382.4 L747.5,380.1 L748.5,377.8 L749.5,375.5 L750.5,373.3 L751.5,371.1 L752.5,369.0 L753.5,367.0 L754.5,365.0 L755.5,363.0 L756.5,361.2 L757.5,359.4 L758.5,357.7 L759.5,356.1 L760.5,354.6 L761.5,353.1 L762.5,351.8 L763.5,350.6 L764.5,349.5 L765.5,348.5 L766.5,347.6 L767.5,346.9 L768.5,346.2 L769.5,345.7 L770.5,345.3 L771.5,345.1 L772.5,344.9 L773.5,344.9 L774.5,345.0 L775.5,345.3 L776.5,345.6 L777.5,346.1 L778.5,346.7 L779.5,347.4 L780.5,348.3 L781.5,349.2 L782.5,350.3 L783.5,351.4 L784.5,352.7 L785.5,354.0 L786.5,355.5 L787.5,357.0 L788.5,358.7 L789.5,360.4 L790.5,362.2 L791.5,364.0 L792.5,366.0 L793.5,368.0 L794.5,370.0 L795.5,372.1 L796.5,374.3 L797.5,376.5 L798.5,378.7 L799.5,381.0 L800.5,383.3 L801.5,385.7 L802.5,388.0 L803.5,390.4 L804.5,392.8 L805.5,395.2 L806.5,397.6 L807.5,400.1 L808.5,402.5 L809.5,404.9 L810.5,407.3 L811.5,409.7 L812.5,412.1 L813.5,414.5 L814.5,416.9 L815.5,419.2 L816.5,421.6 L817.5,423.9 L818.5,426.2 L819.5,428.5 L820.5,430.7 L821.5,433.0 L822.5,435.2 L823.5,437.3 L824.5,439.5 L825.5,441.6 L826.5,443.7 L827.5,445.8 L828.5,447.8 L829.5,449.8 L830.5,451.8 L831.5,453.7 L832.5,455.6 L833.5,457.5 L834.5,459.4 L835.5,461.2 L836.5,463.0 L837.5,464.7 L838.5,466.5 L839.5,468.2 L840.5,469.8 L841.5,471.5 L842.5,473.1 L843.5,474.7 L844.5,476.2 L845.5,477.7 L846.5,479.2 L847.5,480.7 L848.5,482.1 L849.5,483.6 L850.5,484.9 L851.5,486.3 L852.5,487.6 L853.5,488.9 L854.5,490.2 L855.5,491.5 L856.5,492.7 L857.5,493.9 L858.5,495.1 L859.5,496.3 L860.5,497.4 L861.5,498.5 L862.5,499.6 L863.5,500.7 L864.5,501.8 L865.5,502.8 L866.5,503.8 L867.5,504.8 L868.5,505.8 L869.5,506.8 L870.5,507.7 L871.5,508.6 L872.5,509.5 L873.5,510.4 L874.5,511.3 L875.5,512.1 L876.5,513.0 L877.5,513.8 L878.5,514.6 L879.5,515.4 L880.5,516.2 L881.5,516.9 L882.5,517.7 L883.5,518.4 L884.5,519.1 L885.5,519.9 L886.5,520.5 L887.5,521.2 L888.5,521.9 L889.5,522.6 L890.5,523.2 L891.5,523.8 L892.5,524.5 L893.5,525.1 L894.5,525.7 L895.5,526.3 L896.5,526.8 L897.5,527.4 L898.5,528.0 L899.5,528.5 L900.5,529.0 L901.5,529.6 L902.5,530.1 L903.5,530.6 L904.5,531.1 L905.5,531.6 L906.5,532.1 L907.5,532.6 L908.5,533.0 L909.5,533.5 L910.5,533.9 L911.5,534.4 L912.5,534.8 L913.5,535.3 L914.5,535.7 L915.5,536.1 L916.5,536.5 L917.5,536.9 L918.5,537.3 L919.5,537.7 L920.5,538.1 L921.5,538.4 L922.5,538.8 L923.5,539.2 L924.5,539.5 L925.5,539.9 L926.5,540.2 L927.5,540.6 L928.5,540.9 L929.5,541.3 L930.5,541.6 L931.5,541.9 L932.5,542.2 L933.5,542.5 L934.5,542.8 L935.5,543.1 L936.5,543.4 L937.5,543.7 L938.5,544.0 L939.5,544.3 L940.5,544.6 L941.5,544.9 L942.5,545.1 L943.5,545.4 L944.5,545.7 L945.5,545.9 L946.5,546.2 L947.5,546.4 L948.5,546.7 L949.5,546.9 L950.5,547.2 L951.5,547.4 L952.5,547.6 L953.5,547.9 L954.5,548.1 L955.5,548.3 L956.5,548.5 L957.5,548.8 L958.5,549.0 L959.5,549.2 L960.5,549.4 L961.5,549.6 L962.5,549.8 L963.5,550.0 L964.5,550.2 L965.5,550.4 L966.5,550.6 L967.5,550.8 L968.5,551.0 L969.5,551.2 L970.5,551.4 L971.5,551.5 L972.5,551.7 L973.5,551.9 L974.5,552.1 L975.5,552.2" fill="none" stroke="#000" stroke-width="3.8" stroke-linejoin="round"/>
<g fill="#fff" stroke="#FF8000" stroke-width="3.2">
<circle cx="971.2" cy="551.5" r="5.3"/>
<circle cx="966.0" cy="551.5" r="5.3"/>
<circle cx="960.1" cy="550.0" r="5.3"/>
<circle cx="950.5" cy="551.5" r="5.3"/>
<circle cx="944.9" cy="550.0" r="5.3"/>
<circle cx="938.0" cy="550.8" r="5.3"/>
<circle cx="935.3" cy="548.0" r="5.3"/>
<circle cx="929.8" cy="549.0" r="5.3"/>
<circle cx="922.9" cy="547.8" r="5.3"/>
<circle cx="918.7" cy="546.7" r="5.3"/>
<circle cx="913.2" cy="544.3" r="5.3"/>
<circle cx="909.0" cy="540.1" r="5.3"/>
<circle cx="904.9" cy="533.2" r="5.3"/>
<circle cx="900.8" cy="537.4" r="5.3"/>
<circle cx="896.6" cy="529.1" r="5.3"/>
<circle cx="892.5" cy="534.6" r="5.3"/>
<circle cx="889.7" cy="525.0" r="5.3"/>
<circle cx="882.8" cy="529.1" r="5.3"/>
<circle cx="881.4" cy="523.6" r="5.3"/>
<circle cx="873.2" cy="520.8" r="5.3"/>
<circle cx="870.4" cy="504.2" r="5.3"/>
<circle cx="867.6" cy="509.8" r="5.3"/>
<circle cx="864.9" cy="505.6" r="5.3"/>
<circle cx="856.6" cy="501.5" r="5.3"/>
<circle cx="853.8" cy="491.8" r="5.3"/>
<circle cx="851.1" cy="486.3" r="5.3"/>
<circle cx="846.9" cy="480.8" r="5.3"/>
<circle cx="844.2" cy="468.3" r="5.3"/>
<circle cx="840.0" cy="468.9" r="5.3"/>
<circle cx="835.9" cy="462.3" r="5.3"/>
<circle cx="833.1" cy="446.3" r="5.3"/>
<circle cx="829.0" cy="454.5" r="5.3"/>
<circle cx="826.2" cy="434.4" r="5.3"/>
<circle cx="824.3" cy="422.8" r="5.3"/>
<circle cx="819.9" cy="425.6" r="5.3"/>
<circle cx="816.6" cy="410.9" r="5.3"/>
<circle cx="813.3" cy="396.6" r="5.3"/>
<circle cx="809.7" cy="404.8" r="5.3"/>
<circle cx="806.1" cy="399.3" r="5.3"/>
<circle cx="804.5" cy="370.6" r="5.3"/>
<circle cx="798.1" cy="370.6" r="5.3"/>
<circle cx="793.5" cy="378.5" r="5.3"/>
<circle cx="790.4" cy="360.9" r="5.3"/>
<circle cx="786.1" cy="375.2" r="5.3"/>
<circle cx="783.4" cy="359.0" r="5.3"/>
<circle cx="780.6" cy="347.6" r="5.3"/>
<circle cx="776.4" cy="336.2" r="5.3"/>
<circle cx="774.2" cy="346.7" r="5.3"/>
<circle cx="769.6" cy="355.0" r="5.3"/>
<circle cx="765.9" cy="343.0" r="5.3"/>
<circle cx="763.1" cy="349.4" r="5.3"/>
<circle cx="759.8" cy="374.8" r="5.3"/>
<circle cx="755.8" cy="355.9" r="5.3"/>
<circle cx="753.0" cy="362.3" r="5.3"/>
<circle cx="749.3" cy="372.5" r="5.3"/>
<circle cx="747.5" cy="393.6" r="5.3"/>
<circle cx="743.6" cy="399.3" r="5.3"/>
<circle cx="742.9" cy="400.1" r="5.3"/>
<circle cx="740.1" cy="387.7" r="5.3"/>
<circle cx="739.5" cy="386.9" r="5.3"/>
<circle cx="736.4" cy="401.0" r="5.3"/>
<circle cx="734.0" cy="403.5" r="5.3"/>
<circle cx="732.8" cy="403.7" r="5.3"/>
<circle cx="731.8" cy="415.7" r="5.3"/>
<circle cx="729.8" cy="415.9" r="5.3"/>
<circle cx="727.1" cy="435.2" r="5.3"/>
<circle cx="724.3" cy="449.1" r="5.3"/>
<circle cx="721.5" cy="456.0" r="5.3"/>
<circle cx="718.8" cy="449.1" r="5.3"/>
<circle cx="713.3" cy="458.7" r="5.3"/>
<circle cx="710.5" cy="450.4" r="5.3"/>
<circle cx="707.7" cy="482.2" r="5.3"/>
<circle cx="703.6" cy="472.5" r="5.3"/>
<circle cx="698.1" cy="483.6" r="5.3"/>
<circle cx="693.9" cy="489.1" r="5.3"/>
<circle cx="691.2" cy="498.8" r="5.3"/>
<circle cx="688.4" cy="505.7" r="5.3"/>
<circle cx="680.0" cy="503.2" r="5.3"/>
<circle cx="675.9" cy="515.3" r="5.3"/>
<circle cx="671.9" cy="518.4" r="5.3"/>
<circle cx="667.3" cy="508.7" r="5.3"/>
<circle cx="664.3" cy="522.4" r="5.3"/>
<circle cx="660.7" cy="515.8" r="5.3"/>
<circle cx="657.7" cy="526.5" r="5.3"/>
<circle cx="654.6" cy="522.4" r="5.3"/>
<circle cx="650.6" cy="523.9" r="5.3"/>
<circle cx="646.5" cy="526.0" r="5.3"/>
<circle cx="643.0" cy="525.4" r="5.3"/>
<circle cx="638.4" cy="527.5" r="5.3"/>
<circle cx="635.4" cy="529.0" r="5.3"/>
<circle cx="631.9" cy="530.0" r="5.3"/>
<circle cx="628.3" cy="533.0" r="5.3"/>
<circle cx="624.8" cy="531.5" r="5.3"/>
<circle cx="621.7" cy="532.5" r="5.3"/>
<circle cx="617.2" cy="532.0" r="5.3"/>
<circle cx="613.1" cy="532.5" r="5.3"/>
<circle cx="609.1" cy="534.6" r="5.3"/>
<circle cx="608.1" cy="541.6" r="5.3"/>
</g>
<g fill="#fff" stroke="#0000FF" stroke-width="3.2">
<circle cx="922.0" cy="478.8" r="5.3"/>
<circle cx="913.7" cy="473.3" r="5.3"/>
<circle cx="906.3" cy="454.0" r="5.3"/>
<circle cx="896.6" cy="444.9" r="5.3"/>
<circle cx="887.0" cy="422.0" r="5.3"/>
<circle cx="879.5" cy="433.8" r="5.3"/>
<circle cx="869.6" cy="406.2" r="5.3"/>
<circle cx="862.2" cy="395.8" r="5.3"/>
<circle cx="851.1" cy="371.9" r="5.3"/>
<circle cx="843.6" cy="333.8" r="5.3"/>
<circle cx="833.1" cy="301.5" r="5.3"/>
<circle cx="824.5" cy="241.3" r="5.3"/>
<circle cx="816.2" cy="203.5" r="5.3"/>
<circle cx="808.2" cy="140.7" r="5.3"/>
<circle cx="799.5" cy="132.7" r="5.3"/>
<circle cx="792.1" cy="94.1" r="5.3"/>
<circle cx="783.4" cy="55.4" r="5.3"/>
<circle cx="773.7" cy="91.5" r="5.3"/>
<circle cx="764.7" cy="167.8" r="5.3"/>
<circle cx="756.7" cy="239.5" r="5.3"/>
<circle cx="747.7" cy="220.2" r="5.3"/>
<circle cx="739.0" cy="229.2" r="5.3"/>
<circle cx="731.2" cy="197.1" r="5.3"/>
<circle cx="723.5" cy="325.6" r="5.3"/>
</g>
</g>
<rect x="603.50" y="17.20" width="372.50" height="4.00" fill="#000"/>
<rect x="603.50" y="555.00" width="372.50" height="4.00" fill="#000"/>
<rect x="617.47" y="549.00" width="3.80" height="8.00" fill="#000"/>
<rect x="617.47" y="19.20" width="3.80" height="8.00" fill="#000"/>
<rect x="642.10" y="541.00" width="3.80" height="16.00" fill="#000"/>
<rect x="642.10" y="19.20" width="3.80" height="16.00" fill="#000"/>
<rect x="666.73" y="549.00" width="3.80" height="8.00" fill="#000"/>
<rect x="666.73" y="19.20" width="3.80" height="8.00" fill="#000"/>
<rect x="691.36" y="549.00" width="3.80" height="8.00" fill="#000"/>
<rect x="691.36" y="19.20" width="3.80" height="8.00" fill="#000"/>
<rect x="715.99" y="549.00" width="3.80" height="8.00" fill="#000"/>
<rect x="715.99" y="19.20" width="3.80" height="8.00" fill="#000"/>
<rect x="740.62" y="549.00" width="3.80" height="8.00" fill="#000"/>
<rect x="740.62" y="19.20" width="3.80" height="8.00" fill="#000"/>
<rect x="765.25" y="541.00" width="3.80" height="16.00" fill="#000"/>
<rect x="765.25" y="19.20" width="3.80" height="16.00" fill="#000"/>
<rect x="789.88" y="549.00" width="3.80" height="8.00" fill="#000"/>
<rect x="789.88" y="19.20" width="3.80" height="8.00" fill="#000"/>
<rect x="814.51" y="549.00" width="3.80" height="8.00" fill="#000"/>
<rect x="814.51" y="19.20" width="3.80" height="8.00" fill="#000"/>
<rect x="839.14" y="549.00" width="3.80" height="8.00" fill="#000"/>
<rect x="839.14" y="19.20" width="3.80" height="8.00" fill="#000"/>
<rect x="863.77" y="549.00" width="3.80" height="8.00" fill="#000"/>
<rect x="863.77" y="19.20" width="3.80" height="8.00" fill="#000"/>
<rect x="888.40" y="541.00" width="3.80" height="16.00" fill="#000"/>
<rect x="888.40" y="19.20" width="3.80" height="16.00" fill="#000"/>
<rect x="913.03" y="549.00" width="3.80" height="8.00" fill="#000"/>
<rect x="913.03" y="19.20" width="3.80" height="8.00" fill="#000"/>
<rect x="937.66" y="549.00" width="3.80" height="8.00" fill="#000"/>
<rect x="937.66" y="19.20" width="3.80" height="8.00" fill="#000"/>
<rect x="962.29" y="549.00" width="3.80" height="8.00" fill="#000"/>
<rect x="962.29" y="19.20" width="3.80" height="8.00" fill="#000"/>
<rect x="603.50" y="17.20" width="4.00" height="541.80" fill="#FF8000"/>
<rect x="605.50" y="555.10" width="16.00" height="3.80" fill="#FF8000"/>
<rect x="605.50" y="528.22" width="8.00" height="3.80" fill="#FF8000"/>
<rect x="605.50" y="501.34" width="8.00" height="3.80" fill="#FF8000"/>
<rect x="605.50" y="474.46" width="8.00" height="3.80" fill="#FF8000"/>
<rect x="605.50" y="447.58" width="16.00" height="3.80" fill="#FF8000"/>
<rect x="605.50" y="420.70" width="8.00" height="3.80" fill="#FF8000"/>
<rect x="605.50" y="393.82" width="8.00" height="3.80" fill="#FF8000"/>
<rect x="605.50" y="366.94" width="8.00" height="3.80" fill="#FF8000"/>
<rect x="605.50" y="340.06" width="16.00" height="3.80" fill="#FF8000"/>
<rect x="605.50" y="313.18" width="8.00" height="3.80" fill="#FF8000"/>
<rect x="605.50" y="286.30" width="8.00" height="3.80" fill="#FF8000"/>
<rect x="605.50" y="259.42" width="8.00" height="3.80" fill="#FF8000"/>
<rect x="605.50" y="232.54" width="16.00" height="3.80" fill="#FF8000"/>
<rect x="605.50" y="205.66" width="8.00" height="3.80" fill="#FF8000"/>
<rect x="605.50" y="178.78" width="8.00" height="3.80" fill="#FF8000"/>
<rect x="605.50" y="151.90" width="8.00" height="3.80" fill="#FF8000"/>
<rect x="605.50" y="125.02" width="16.00" height="3.80" fill="#FF8000"/>
<rect x="605.50" y="98.14" width="8.00" height="3.80" fill="#FF8000"/>
<rect x="605.50" y="71.26" width="8.00" height="3.80" fill="#FF8000"/>
<rect x="605.50" y="44.38" width="8.00" height="3.80" fill="#FF8000"/>
<rect x="605.50" y="17.50" width="16.00" height="3.80" fill="#FF8000"/>
<rect x="972.00" y="17.20" width="4.00" height="541.80" fill="#0000FF"/>
<rect x="966.00" y="530.23" width="8.00" height="3.80" fill="#0000FF"/>
<rect x="958.00" y="500.10" width="16.00" height="3.80" fill="#0000FF"/>
<rect x="966.00" y="469.98" width="8.00" height="3.80" fill="#0000FF"/>
<rect x="966.00" y="439.85" width="8.00" height="3.80" fill="#0000FF"/>
<rect x="966.00" y="409.73" width="8.00" height="3.80" fill="#0000FF"/>
<rect x="958.00" y="379.60" width="16.00" height="3.80" fill="#0000FF"/>
<rect x="966.00" y="349.48" width="8.00" height="3.80" fill="#0000FF"/>
<rect x="966.00" y="319.35" width="8.00" height="3.80" fill="#0000FF"/>
<rect x="966.00" y="289.23" width="8.00" height="3.80" fill="#0000FF"/>
<rect x="958.00" y="259.10" width="16.00" height="3.80" fill="#0000FF"/>
<rect x="966.00" y="228.97" width="8.00" height="3.80" fill="#0000FF"/>
<rect x="966.00" y="198.85" width="8.00" height="3.80" fill="#0000FF"/>
<rect x="966.00" y="168.72" width="8.00" height="3.80" fill="#0000FF"/>
<rect x="958.00" y="138.60" width="16.00" height="3.80" fill="#0000FF"/>
<rect x="966.00" y="108.47" width="8.00" height="3.80" fill="#0000FF"/>
<rect x="966.00" y="78.35" width="8.00" height="3.80" fill="#0000FF"/>
<rect x="966.00" y="48.23" width="8.00" height="3.80" fill="#0000FF"/>
<rect x="958.00" y="18.10" width="16.00" height="3.80" fill="#0000FF"/>
<text x="644.0" y="596.5" text-anchor="middle" font-size="36">1.636</text>
<text x="767.2" y="596.5" text-anchor="middle" font-size="36">1.641</text>
<text x="890.3" y="596.5" text-anchor="middle" font-size="36">1.646</text>
<text x="591.7" y="567.7" text-anchor="end" font-size="36" fill="#FF8000">0</text>
<text x="591.7" y="460.2" text-anchor="end" font-size="36" fill="#FF8000">2</text>
<text x="591.7" y="352.7" text-anchor="end" font-size="36" fill="#FF8000">4</text>
<text x="591.7" y="245.1" text-anchor="end" font-size="36" fill="#FF8000">6</text>
<text x="591.7" y="137.6" text-anchor="end" font-size="36" fill="#FF8000">8</text>
<text x="591.7" y="30.1" text-anchor="end" font-size="36" fill="#FF8000">10</text>
<text x="984.3" y="512.7" font-size="36" fill="#0000FF">0.0</text>
<text x="984.3" y="392.2" font-size="36" fill="#0000FF">0.1</text>
<text x="984.3" y="271.7" font-size="36" fill="#0000FF">0.2</text>
<text x="984.3" y="151.2" font-size="36" fill="#0000FF">0.3</text>
<text x="984.3" y="30.7" font-size="36" fill="#0000FF">0.4</text>
<text x="630.0" y="67.5" font-size="38">(b)</text>
<text x="953.5" y="78.4" text-anchor="end" font-size="43.5" font-weight="bold">MoSe<tspan font-size="29" dy="11.5">2</tspan></text>
<clipPath id="clip2"><rect x="1098" y="19.2" width="369" height="537.8"/></clipPath>
<g clip-path="url(#clip2)">
<path d="M1096.0,471.8 L1097.0,471.6 L1098.0,471.3 L1099.0,471.0 L1100.0,470.7 L1101.0,470.5 L1102.0,470.2 L1103.0,469.9 L1104.0,469.6 L1105.0,469.3 L1106.0,469.0 L1107.0,468.7 L1108.0,468.4 L1109.0,468.0 L1110.0,467.7 L1111.0,467.4 L1112.0,467.1 L1113.0,466.7 L1114.0,466.4 L1115.0,466.0 L1116.0,465.7 L1117.0,465.3 L1118.0,465.0 L1119.0,464.6 L1120.0,464.2 L1121.0,463.8 L1122.0,463.5 L1123.0,463.1 L1124.0,462.7 L1125.0,462.3 L1126.0,461.9 L1127.0,461.5 L1128.0,461.0 L1129.0,460.6 L1130.0,460.2 L1131.0,459.7 L1132.0,459.3 L1133.0,458.8 L1134.0,458.4 L1135.0,457.9 L1136.0,457.4 L1137.0,456.9 L1138.0,456.5 L1139.0,455.9 L1140.0,455.4 L1141.0,454.9 L1142.0,454.4 L1143.0,453.9 L1144.0,453.3 L1145.0,452.7 L1146.0,452.2 L1147.0,451.6 L1148.0,451.0 L1149.0,450.4 L1150.0,449.8 L1151.0,449.2 L1152.0,448.6 L1153.0,447.9 L1154.0,447.3 L1155.0,446.6 L1156.0,445.9 L1157.0,445.2 L1158.0,444.5 L1159.0,443.8 L1160.0,443.0 L1161.0,442.3 L1162.0,441.5 L1163.0,440.8 L1164.0,440.0 L1165.0,439.1 L1166.0,438.3 L1167.0,437.5 L1168.0,436.6 L1169.0,435.7 L1170.0,434.8 L1171.0,433.9 L1172.0,433.0 L1173.0,432.0 L1174.0,431.0 L1175.0,430.0 L1176.0,429.0 L1177.0,428.0 L1178.0,426.9 L1179.0,425.8 L1180.0,424.7 L1181.0,423.6 L1182.0,422.4 L1183.0,421.3 L1184.0,420.0 L1185.0,418.8 L1186.0,417.6 L1187.0,416.3 L1188.0,415.0 L1189.0,413.6 L1190.0,412.2 L1191.0,410.8 L1192.0,409.4 L1193.0,408.0 L1194.0,406.5 L1195.0,404.9 L1196.0,403.4 L1197.0,401.8 L1198.0,400.2 L1199.0,398.5 L1200.0,396.8 L1201.0,395.1 L1202.0,393.3 L1203.0,391.5 L1204.0,389.7 L1205.0,387.8 L1206.0,385.9 L1207.0,383.9 L1208.0,382.0 L1209.0,379.9 L1210.0,377.8 L1211.0,375.7 L1212.0,373.5 L1213.0,371.3 L1214.0,369.1 L1215.0,366.8 L1216.0,364.4 L1217.0,362.0 L1218.0,359.6 L1219.0,357.1 L1220.0,354.6 L1221.0,352.0 L1222.0,349.3 L1223.0,346.6 L1224.0,343.9 L1225.0,341.1 L1226.0,338.2 L1227.0,335.3 L1228.0,332.4 L1229.0,329.3 L1230.0,326.3 L1231.0,323.1 L1232.0,319.9 L1233.0,316.6 L1234.0,313.3 L1235.0,309.9 L1236.0,306.5 L1237.0,303.0 L1238.0,299.4 L1239.0,295.8 L1240.0,292.1 L1241.0,288.3 L1242.0,284.5 L1243.0,280.6 L1244.0,276.6 L1245.0,272.6 L1246.0,268.5 L1247.0,264.3 L1248.0,260.1 L1249.0,255.8 L1250.0,251.4 L1251.0,247.0 L1252.0,242.5 L1253.0,237.9 L1254.0,233.3 L1255.0,228.7 L1256.0,223.9 L1257.0,219.1 L1258.0,214.3 L1259.0,209.4 L1260.0,204.5 L1261.0,199.5 L1262.0,194.5 L1263.0,189.5 L1264.0,184.4 L1265.0,179.3 L1266.0,174.2 L1267.0,169.1 L1268.0,163.9 L1269.0,158.8 L1270.0,153.7 L1271.0,148.6 L1272.0,143.6 L1273.0,138.5 L1274.0,133.6 L1275.0,128.7 L1276.0,123.8 L1277.0,119.1 L1278.0,114.4 L1279.0,109.9 L1280.0,105.4 L1281.0,101.1 L1282.0,97.0 L1283.0,93.0 L1284.0,89.1 L1285.0,85.5 L1286.0,82.1 L1287.0,78.8 L1288.0,75.8 L1289.0,73.0 L1290.0,70.4 L1291.0,68.1 L1292.0,66.1 L1293.0,64.3 L1294.0,62.9 L1295.0,61.7 L1296.0,60.7 L1297.0,60.1 L1298.0,59.8 L1299.0,59.8 L1300.0,60.0 L1301.0,60.6 L1302.0,61.5 L1303.0,62.6 L1304.0,64.1 L1305.0,65.8 L1306.0,67.9 L1307.0,70.1 L1308.0,72.7 L1309.0,75.5 L1310.0,78.5 L1311.0,81.8 L1312.0,85.3 L1313.0,89.0 L1314.0,92.9 L1315.0,97.0 L1316.0,101.2 L1317.0,105.6 L1318.0,110.2 L1319.0,114.9 L1320.0,119.7 L1321.0,124.6 L1322.0,129.6 L1323.0,134.6 L1324.0,139.8 L1325.0,145.0 L1326.0,150.2 L1327.0,155.5 L1328.0,160.8 L1329.0,166.1 L1330.0,171.4 L1331.0,176.7 L1332.0,182.0 L1333.0,187.3 L1334.0,192.6 L1335.0,197.8 L1336.0,203.0 L1337.0,208.2 L1338.0,213.3 L1339.0,218.3 L1340.0,223.3 L1341.0,228.2 L1342.0,233.1 L1343.0,237.9 L1344.0,242.7 L1345.0,247.3 L1346.0,251.9 L1347.0,256.5 L1348.0,260.9 L1349.0,265.3 L1350.0,269.6 L1351.0,273.8 L1352.0,277.9 L1353.0,282.0 L1354.0,286.0 L1355.0,289.9 L1356.0,293.7 L1357.0,297.5 L1358.0,301.2 L1359.0,304.8 L1360.0,308.3 L1361.0,311.8 L1362.0,315.2 L1363.0,318.5 L1364.0,321.8 L1365.0,324.9 L1366.0,328.1 L1367.0,331.1 L1368.0,334.1 L1369.0,337.0 L1370.0,339.8 L1371.0,342.6 L1372.0,345.4 L1373.0,348.0 L1374.0,350.6 L1375.0,353.2 L1376.0,355.7 L1377.0,358.1 L1378.0,360.5 L1379.0,362.8 L1380.0,365.1 L1381.0,367.4 L1382.0,369.5 L1383.0,371.7 L1384.0,373.8 L1385.0,375.8 L1386.0,377.8 L1387.0,379.8 L1388.0,381.7 L1389.0,383.5 L1390.0,385.4 L1391.0,387.2 L1392.0,388.9 L1393.0,390.6 L1394.0,392.3 L1395.0,393.9 L1396.0,395.5 L1397.0,397.1 L1398.0,398.7 L1399.0,400.2 L1400.0,401.6 L1401.0,403.1 L1402.0,404.5 L1403.0,405.9 L1404.0,407.2 L1405.0,408.6 L1406.0,409.9 L1407.0,411.1 L1408.0,412.4 L1409.0,413.6 L1410.0,414.8 L1411.0,416.0 L1412.0,417.1 L1413.0,418.2 L1414.0,419.3 L1415.0,420.4 L1416.0,421.5 L1417.0,422.5 L1418.0,423.5 L1419.0,424.5 L1420.0,425.5 L1421.0,426.5 L1422.0,427.4 L1423.0,428.3 L1424.0,429.2 L1425.0,430.1 L1426.0,431.0 L1427.0,431.8 L1428.0,432.7 L1429.0,433.5 L1430.0,434.3 L1431.0,435.1 L1432.0,435.9 L1433.0,436.6 L1434.0,437.4 L1435.0,438.1 L1436.0,438.9 L1437.0,439.6 L1438.0,440.3 L1439.0,440.9 L1440.0,441.6 L1441.0,442.3 L1442.0,442.9 L1443.0,443.6 L1444.0,444.2 L1445.0,444.8 L1446.0,445.4 L1447.0,446.0 L1448.0,446.6 L1449.0,447.1 L1450.0,447.7 L1451.0,448.3 L1452.0,448.8 L1453.0,449.3 L1454.0,449.9 L1455.0,450.4 L1456.0,450.9 L1457.0,451.4 L1458.0,451.9 L1459.0,452.4 L1460.0,452.8 L1461.0,453.3 L1462.0,453.8 L1463.0,454.2 L1464.0,454.7 L1465.0,455.1 L1466.0,455.5 L1467.0,455.9 L1468.0,456.4 L1469.0,456.8" fill="none" stroke="#000" stroke-width="3.8" stroke-linejoin="round"/>
<path d="M1096.0,541.5 L1097.0,541.4 L1098.0,541.2 L1099.0,541.0 L1100.0,540.9 L1101.0,540.7 L1102.0,540.5 L1103.0,540.4 L1104.0,540.2 L1105.0,540.0 L1106.0,539.9 L1107.0,539.7 L1108.0,539.5 L1109.0,539.3 L1110.0,539.1 L1111.0,538.9 L1112.0,538.8 L1113.0,538.6 L1114.0,538.4 L1115.0,538.2 L1116.0,538.0 L1117.0,537.8 L1118.0,537.6 L1119.0,537.4 L1120.0,537.2 L1121.0,536.9 L1122.0,536.7 L1123.0,536.5 L1124.0,536.3 L1125.0,536.1 L1126.0,535.8 L1127.0,535.6 L1128.0,535.4 L1129.0,535.1 L1130.0,534.9 L1131.0,534.6 L1132.0,534.4 L1133.0,534.2 L1134.0,533.9 L1135.0,533.6 L1136.0,533.4 L1137.0,533.1 L1138.0,532.8 L1139.0,532.6 L1140.0,532.3 L1141.0,532.0 L1142.0,531.7 L1143.0,531.5 L1144.0,531.2 L1145.0,530.9 L1146.0,530.6 L1147.0,530.3 L1148.0,529.9 L1149.0,529.6 L1150.0,529.3 L1151.0,529.0 L1152.0,528.7 L1153.0,528.3 L1154.0,528.0 L1155.0,527.6 L1156.0,527.3 L1157.0,526.9 L1158.0,526.6 L1159.0,526.2 L1160.0,525.9 L1161.0,525.5 L1162.0,525.1 L1163.0,524.7 L1164.0,524.3 L1165.0,523.9 L1166.0,523.5 L1167.0,523.1 L1168.0,522.7 L1169.0,522.3 L1170.0,521.8 L1171.0,521.4 L1172.0,520.9 L1173.0,520.5 L1174.0,520.0 L1175.0,519.6 L1176.0,519.1 L1177.0,518.6 L1178.0,518.1 L1179.0,517.6 L1180.0,517.1 L1181.0,516.6 L1182.0,516.1 L1183.0,515.5 L1184.0,515.0 L1185.0,514.4 L1186.0,513.9 L1187.0,513.3 L1188.0,512.7 L1189.0,512.2 L1190.0,511.6 L1191.0,511.0 L1192.0,510.3 L1193.0,509.7 L1194.0,509.1 L1195.0,508.4 L1196.0,507.8 L1197.0,507.1 L1198.0,506.4 L1199.0,505.7 L1200.0,505.0 L1201.0,504.3 L1202.0,503.6 L1203.0,502.9 L1204.0,502.1 L1205.0,501.4 L1206.0,500.6 L1207.0,499.8 L1208.0,499.0 L1209.0,498.2 L1210.0,497.4 L1211.0,496.5 L1212.0,495.7 L1213.0,494.8 L1214.0,493.9 L1215.0,493.0 L1216.0,492.1 L1217.0,491.2 L1218.0,490.3 L1219.0,489.3 L1220.0,488.4 L1221.0,487.4 L1222.0,486.4 L1223.0,485.4 L1224.0,484.3 L1225.0,483.3 L1226.0,482.2 L1227.0,481.2 L1228.0,480.1 L1229.0,479.0 L1230.0,477.8 L1231.0,476.7 L1232.0,475.5 L1233.0,474.4 L1234.0,473.2 L1235.0,472.0 L1236.0,470.8 L1237.0,469.5 L1238.0,468.3 L1239.0,467.0 L1240.0,465.8 L1241.0,464.5 L1242.0,463.2 L1243.0,461.8 L1244.0,460.5 L1245.0,459.1 L1246.0,457.8 L1247.0,456.4 L1248.0,455.0 L1249.0,453.6 L1250.0,452.2 L1251.0,450.8 L1252.0,449.4 L1253.0,447.9 L1254.0,446.5 L1255.0,445.0 L1256.0,443.5 L1257.0,442.1 L1258.0,440.6 L1259.0,439.1 L1260.0,437.7 L1261.0,436.2 L1262.0,434.7 L1263.0,433.2 L1264.0,431.7 L1265.0,430.3 L1266.0,428.8 L1267.0,427.3 L1268.0,425.9 L1269.0,424.5 L1270.0,423.0 L1271.0,421.6 L1272.0,420.2 L1273.0,418.8 L1274.0,417.5 L1275.0,416.2 L1276.0,414.8 L1277.0,413.6 L1278.0,412.3 L1279.0,411.1 L1280.0,409.9 L1281.0,408.7 L1282.0,407.6 L1283.0,406.5 L1284.0,405.5 L1285.0,404.5 L1286.0,403.5 L1287.0,402.6 L1288.0,401.7 L1289.0,400.9 L1290.0,400.1 L1291.0,399.4 L1292.0,398.8 L1293.0,398.2 L1294.0,397.6 L1295.0,397.2 L1296.0,396.7 L1297.0,396.4 L1298.0,396.1 L1299.0,395.8 L1300.0,395.7 L1301.0,395.5 L1302.0,395.5 L1303.0,395.5 L1304.0,395.6 L1305.0,395.7 L1306.0,396.0 L1307.0,396.3 L1308.0,396.6 L1309.0,397.0 L1310.0,397.5 L1311.0,398.1 L1312.0,398.7 L1313.0,399.4 L1314.0,400.1 L1315.0,400.9 L1316.0,401.8 L1317.0,402.7 L1318.0,403.6 L1319.0,404.6 L1320.0,405.7 L1321.0,406.8 L1322.0,407.9 L1323.0,409.1 L1324.0,410.4 L1325.0,411.6 L1326.0,412.9 L1327.0,414.2 L1328.0,415.6 L1329.0,417.0 L1330.0,418.4 L1331.0,419.8 L1332.0,421.3 L1333.0,422.7 L1334.0,424.2 L1335.0,425.7 L1336.0,427.2 L1337.0,428.7 L1338.0,430.2 L1339.0,431.8 L1340.0,433.3 L1341.0,434.8 L1342.0,436.4 L1343.0,437.9 L1344.0,439.5 L1345.0,441.0 L1346.0,442.5 L1347.0,444.0 L1348.0,445.6 L1349.0,447.1 L1350.0,448.6 L1351.0,450.1 L1352.0,451.5 L1353.0,453.0 L1354.0,454.5 L1355.0,455.9 L1356.0,457.3 L1357.0,458.7 L1358.0,460.2 L1359.0,461.5 L1360.0,462.9 L1361.0,464.3 L1362.0,465.6 L1363.0,466.9 L1364.0,468.2 L1365.0,469.5 L1366.0,470.8 L1367.0,472.0 L1368.0,473.3 L1369.0,474.5 L1370.0,475.7 L1371.0,476.9 L1372.0,478.1 L1373.0,479.2 L1374.0,480.3 L1375.0,481.5 L1376.0,482.6 L1377.0,483.6 L1378.0,484.7 L1379.0,485.8 L1380.0,486.8 L1381.0,487.8 L1382.0,488.8 L1383.0,489.8 L1384.0,490.8 L1385.0,491.7 L1386.0,492.6 L1387.0,493.6 L1388.0,494.5 L1389.0,495.4 L1390.0,496.2 L1391.0,497.1 L1392.0,497.9 L1393.0,498.8 L1394.0,499.6 L1395.0,500.4 L1396.0,501.2 L1397.0,501.9 L1398.0,502.7 L1399.0,503.5 L1400.0,504.2 L1401.0,504.9 L1402.0,505.6 L1403.0,506.3 L1404.0,507.0 L1405.0,507.7 L1406.0,508.3 L1407.0,509.0 L1408.0,509.6 L1409.0,510.3 L1410.0,510.9 L1411.0,511.5 L1412.0,512.1 L1413.0,512.7 L1414.0,513.3 L1415.0,513.8 L1416.0,514.4 L1417.0,514.9 L1418.0,515.5 L1419.0,516.0 L1420.0,516.5 L1421.0,517.0 L1422.0,517.5 L1423.0,518.0 L1424.0,518.5 L1425.0,519.0 L1426.0,519.5 L1427.0,519.9 L1428.0,520.4 L1429.0,520.8 L1430.0,521.3 L1431.0,521.7 L1432.0,522.1 L1433.0,522.5 L1434.0,523.0 L1435.0,523.4 L1436.0,523.8 L1437.0,524.2 L1438.0,524.5 L1439.0,524.9 L1440.0,525.3 L1441.0,525.7 L1442.0,526.0 L1443.0,526.4 L1444.0,526.7 L1445.0,527.1 L1446.0,527.4 L1447.0,527.7 L1448.0,528.1 L1449.0,528.4 L1450.0,528.7 L1451.0,529.0 L1452.0,529.3 L1453.0,529.6 L1454.0,529.9 L1455.0,530.2 L1456.0,530.5 L1457.0,530.8 L1458.0,531.1 L1459.0,531.4 L1460.0,531.6 L1461.0,531.9 L1462.0,532.2 L1463.0,532.4 L1464.0,532.7 L1465.0,532.9 L1466.0,533.2 L1467.0,533.4 L1468.0,533.7 L1469.0,533.9" fill="none" stroke="#000" stroke-width="3.8" stroke-linejoin="round"/>
<g fill="#fff" stroke="#FF8000" stroke-width="3.2">
<circle cx="1101.7" cy="536.9" r="5.3"/>
<circle cx="1106.0" cy="534.4" r="5.3"/>
<circle cx="1110.3" cy="532.0" r="5.3"/>
<circle cx="1115.2" cy="530.8" r="5.3"/>
<circle cx="1119.2" cy="529.6" r="5.3"/>
<circle cx="1123.2" cy="528.0" r="5.3"/>
<circle cx="1126.8" cy="518.2" r="5.3"/>
<circle cx="1131.0" cy="517.2" r="5.3"/>
<circle cx="1135.0" cy="518.0" r="5.3"/>
<circle cx="1138.5" cy="520.2" r="5.3"/>
<circle cx="1140.2" cy="521.1" r="5.3"/>
<circle cx="1143.4" cy="524.4" r="5.3"/>
<circle cx="1146.6" cy="527.1" r="5.3"/>
<circle cx="1149.9" cy="527.6" r="5.3"/>
<circle cx="1153.6" cy="530.3" r="5.3"/>
<circle cx="1156.8" cy="523.3" r="5.3"/>
<circle cx="1160.6" cy="522.8" r="5.3"/>
<circle cx="1164.4" cy="522.2" r="5.3"/>
<circle cx="1168.1" cy="517.4" r="5.3"/>
<circle cx="1171.3" cy="517.9" r="5.3"/>
<circle cx="1174.6" cy="519.0" r="5.3"/>
<circle cx="1178.9" cy="514.2" r="5.3"/>
<circle cx="1182.1" cy="512.6" r="5.3"/>
<circle cx="1184.9" cy="514.2" r="5.3"/>
<circle cx="1189.8" cy="513.0" r="5.3"/>
<circle cx="1195.9" cy="508.1" r="5.3"/>
<circle cx="1200.8" cy="503.2" r="5.3"/>
<circle cx="1205.8" cy="499.5" r="5.3"/>
<circle cx="1210.7" cy="497.0" r="5.3"/>
<circle cx="1215.6" cy="489.7" r="5.3"/>
<circle cx="1221.7" cy="486.0" r="5.3"/>
<circle cx="1226.6" cy="479.8" r="5.3"/>
<circle cx="1231.6" cy="473.7" r="5.3"/>
<circle cx="1235.7" cy="470.9" r="5.3"/>
<circle cx="1242.2" cy="464.5" r="5.3"/>
<circle cx="1247.6" cy="460.2" r="5.3"/>
<circle cx="1252.9" cy="446.2" r="5.3"/>
<circle cx="1258.3" cy="444.1" r="5.3"/>
<circle cx="1263.7" cy="432.3" r="5.3"/>
<circle cx="1269.0" cy="433.4" r="5.3"/>
<circle cx="1273.3" cy="416.2" r="5.3"/>
<circle cx="1278.7" cy="407.6" r="5.3"/>
<circle cx="1284.1" cy="406.5" r="5.3"/>
<circle cx="1289.0" cy="402.2" r="5.3"/>
<circle cx="1293.7" cy="391.5" r="5.3"/>
<circle cx="1299.1" cy="393.6" r="5.3"/>
<circle cx="1304.5" cy="395.8" r="5.3"/>
<circle cx="1309.8" cy="397.9" r="5.3"/>
<circle cx="1315.2" cy="402.2" r="5.3"/>
<circle cx="1320.6" cy="404.4" r="5.3"/>
<circle cx="1324.9" cy="418.3" r="5.3"/>
<circle cx="1331.3" cy="415.1" r="5.3"/>
<circle cx="1336.3" cy="425.4" r="5.3"/>
<circle cx="1341.0" cy="438.7" r="5.3"/>
<circle cx="1346.3" cy="443.0" r="5.3"/>
<circle cx="1351.7" cy="451.6" r="5.3"/>
<circle cx="1357.1" cy="457.0" r="5.3"/>
<circle cx="1362.5" cy="468.8" r="5.3"/>
<circle cx="1367.8" cy="476.3" r="5.3"/>
<circle cx="1373.2" cy="479.5" r="5.3"/>
<circle cx="1378.6" cy="483.8" r="5.3"/>
<circle cx="1383.9" cy="490.3" r="5.3"/>
<circle cx="1387.8" cy="494.4" r="5.3"/>
<circle cx="1392.7" cy="501.8" r="5.3"/>
<circle cx="1398.9" cy="504.2" r="5.3"/>
<circle cx="1403.8" cy="507.9" r="5.3"/>
<circle cx="1408.7" cy="516.5" r="5.3"/>
<circle cx="1414.8" cy="512.8" r="5.3"/>
<circle cx="1419.7" cy="520.2" r="5.3"/>
<circle cx="1424.6" cy="525.1" r="5.3"/>
<circle cx="1430.3" cy="527.1" r="5.3"/>
<circle cx="1434.4" cy="534.9" r="5.3"/>
<circle cx="1439.3" cy="542.3" r="5.3"/>
<circle cx="1444.2" cy="547.2" r="5.3"/>
<circle cx="1449.1" cy="549.6" r="5.3"/>
<circle cx="1455.3" cy="552.1" r="5.3"/>
</g>
<g fill="#fff" stroke="#0000FF" stroke-width="3.2">
<circle cx="1102.6" cy="470.5" r="5.3"/>
<circle cx="1104.7" cy="467.8" r="5.3"/>
<circle cx="1106.9" cy="467.3" r="5.3"/>
<circle cx="1110.1" cy="465.6" r="5.3"/>
<circle cx="1113.3" cy="465.1" r="5.3"/>
<circle cx="1116.6" cy="464.0" r="5.3"/>
<circle cx="1120.3" cy="466.2" r="5.3"/>
<circle cx="1124.1" cy="464.0" r="5.3"/>
<circle cx="1127.8" cy="463.0" r="5.3"/>
<circle cx="1132.1" cy="465.1" r="5.3"/>
<circle cx="1137.0" cy="461.4" r="5.3"/>
<circle cx="1141.3" cy="457.6" r="5.3"/>
<circle cx="1147.7" cy="457.6" r="5.3"/>
<circle cx="1148.8" cy="449.0" r="5.3"/>
<circle cx="1154.2" cy="444.7" r="5.3"/>
<circle cx="1156.3" cy="454.4" r="5.3"/>
<circle cx="1160.1" cy="439.9" r="5.3"/>
<circle cx="1163.8" cy="451.2" r="5.3"/>
<circle cx="1167.0" cy="437.2" r="5.3"/>
<circle cx="1169.2" cy="444.7" r="5.3"/>
<circle cx="1173.5" cy="440.4" r="5.3"/>
<circle cx="1174.6" cy="430.7" r="5.3"/>
<circle cx="1178.9" cy="440.4" r="5.3"/>
<circle cx="1180.5" cy="422.7" r="5.3"/>
<circle cx="1184.2" cy="436.6" r="5.3"/>
<circle cx="1186.9" cy="416.0" r="5.3"/>
<circle cx="1189.6" cy="428.1" r="5.3"/>
<circle cx="1191.9" cy="407.8" r="5.3"/>
<circle cx="1193.5" cy="414.7" r="5.3"/>
<circle cx="1195.1" cy="414.9" r="5.3"/>
<circle cx="1197.2" cy="407.4" r="5.3"/>
<circle cx="1199.4" cy="400.2" r="5.3"/>
<circle cx="1204.1" cy="404.1" r="5.3"/>
<circle cx="1206.3" cy="386.3" r="5.3"/>
<circle cx="1210.1" cy="393.4" r="5.3"/>
<circle cx="1211.2" cy="377.1" r="5.3"/>
<circle cx="1215.5" cy="371.9" r="5.3"/>
<circle cx="1217.6" cy="362.7" r="5.3"/>
<circle cx="1220.9" cy="354.1" r="5.3"/>
<circle cx="1223.4" cy="349.8" r="5.3"/>
<circle cx="1226.7" cy="333.7" r="5.3"/>
<circle cx="1229.9" cy="328.3" r="5.3"/>
<circle cx="1231.6" cy="311.1" r="5.3"/>
<circle cx="1234.5" cy="299.0" r="5.3"/>
<circle cx="1237.6" cy="305.3" r="5.3"/>
<circle cx="1240.7" cy="252.4" r="5.3"/>
<circle cx="1242.4" cy="295.8" r="5.3"/>
<circle cx="1246.3" cy="227.9" r="5.3"/>
<circle cx="1248.0" cy="272.0" r="5.3"/>
<circle cx="1251.7" cy="211.2" r="5.3"/>
<circle cx="1254.2" cy="227.1" r="5.3"/>
<circle cx="1257.1" cy="203.3" r="5.3"/>
<circle cx="1259.6" cy="189.1" r="5.3"/>
<circle cx="1263.5" cy="204.3" r="5.3"/>
<circle cx="1265.3" cy="119.2" r="5.3"/>
<circle cx="1268.9" cy="208.7" r="5.3"/>
<circle cx="1270.9" cy="85.4" r="5.3"/>
<circle cx="1274.3" cy="176.8" r="5.3"/>
<circle cx="1276.9" cy="77.5" r="5.3"/>
<circle cx="1279.3" cy="131.4" r="5.3"/>
<circle cx="1282.5" cy="78.7" r="5.3"/>
<circle cx="1284.8" cy="95.9" r="5.3"/>
<circle cx="1288.5" cy="84.8" r="5.3"/>
<circle cx="1290.4" cy="59.0" r="5.3"/>
<circle cx="1294.4" cy="109.7" r="5.3"/>
<circle cx="1296.3" cy="39.7" r="5.3"/>
<circle cx="1299.9" cy="98.3" r="5.3"/>
<circle cx="1301.8" cy="65.5" r="5.3"/>
<circle cx="1305.8" cy="72.5" r="5.3"/>
<circle cx="1307.3" cy="98.6" r="5.3"/>
<circle cx="1311.0" cy="69.2" r="5.3"/>
<circle cx="1311.9" cy="98.6" r="5.3"/>
<circle cx="1316.5" cy="98.6" r="5.3"/>
<circle cx="1319.3" cy="111.1" r="5.3"/>
<circle cx="1321.7" cy="129.5" r="5.3"/>
<circle cx="1324.8" cy="118.0" r="5.3"/>
<circle cx="1327.3" cy="169.0" r="5.3"/>
<circle cx="1330.9" cy="120.3" r="5.3"/>
<circle cx="1332.2" cy="220.5" r="5.3"/>
<circle cx="1336.4" cy="154.2" r="5.3"/>
<circle cx="1337.6" cy="232.8" r="5.3"/>
<circle cx="1342.0" cy="214.1" r="5.3"/>
<circle cx="1343.7" cy="232.0" r="5.3"/>
<circle cx="1347.4" cy="264.7" r="5.3"/>
<circle cx="1349.4" cy="255.8" r="5.3"/>
<circle cx="1353.6" cy="296.6" r="5.3"/>
<circle cx="1355.3" cy="264.7" r="5.3"/>
<circle cx="1357.9" cy="319.7" r="5.3"/>
<circle cx="1360.9" cy="281.8" r="5.3"/>
<circle cx="1361.1" cy="282.6" r="5.3"/>
<circle cx="1363.9" cy="325.1" r="5.3"/>
<circle cx="1367.6" cy="316.9" r="5.3"/>
<circle cx="1369.7" cy="338.0" r="5.3"/>
<circle cx="1372.5" cy="355.2" r="5.3"/>
<circle cx="1375.5" cy="344.0" r="5.3"/>
<circle cx="1377.7" cy="367.6" r="5.3"/>
<circle cx="1381.1" cy="363.3" r="5.3"/>
<circle cx="1382.6" cy="376.6" r="5.3"/>
<circle cx="1386.3" cy="377.7" r="5.3"/>
<circle cx="1390.1" cy="386.3" r="5.3"/>
<circle cx="1391.2" cy="394.2" r="5.3"/>
<circle cx="1395.5" cy="390.6" r="5.3"/>
<circle cx="1397.0" cy="401.3" r="5.3"/>
<circle cx="1403.0" cy="401.3" r="5.3"/>
<circle cx="1406.2" cy="412.1" r="5.3"/>
<circle cx="1409.9" cy="404.5" r="5.3"/>
<circle cx="1412.4" cy="426.5" r="5.3"/>
<circle cx="1415.9" cy="409.9" r="5.3"/>
<circle cx="1417.3" cy="433.1" r="5.3"/>
<circle cx="1421.3" cy="419.6" r="5.3"/>
<circle cx="1421.4" cy="425.0" r="5.3"/>
<circle cx="1423.4" cy="434.3" r="5.3"/>
<circle cx="1429.5" cy="436.3" r="5.3"/>
<circle cx="1432.0" cy="446.6" r="5.3"/>
<circle cx="1434.4" cy="445.4" r="5.3"/>
<circle cx="1436.9" cy="460.1" r="5.3"/>
<circle cx="1440.1" cy="456.4" r="5.3"/>
<circle cx="1442.5" cy="471.1" r="5.3"/>
<circle cx="1446.0" cy="474.8" r="5.3"/>
<circle cx="1449.1" cy="479.7" r="5.3"/>
<circle cx="1451.6" cy="484.6" r="5.3"/>
</g>
</g>
<rect x="1096.00" y="17.20" width="373.00" height="4.00" fill="#000"/>
<rect x="1096.00" y="555.00" width="373.00" height="4.00" fill="#000"/>
<rect x="1106.77" y="549.00" width="3.80" height="8.00" fill="#000"/>
<rect x="1106.77" y="19.20" width="3.80" height="8.00" fill="#000"/>
<rect x="1131.10" y="541.00" width="3.80" height="16.00" fill="#000"/>
<rect x="1131.10" y="19.20" width="3.80" height="16.00" fill="#000"/>
<rect x="1155.43" y="549.00" width="3.80" height="8.00" fill="#000"/>
<rect x="1155.43" y="19.20" width="3.80" height="8.00" fill="#000"/>
<rect x="1179.76" y="549.00" width="3.80" height="8.00" fill="#000"/>
<rect x="1179.76" y="19.20" width="3.80" height="8.00" fill="#000"/>
<rect x="1204.09" y="549.00" width="3.80" height="8.00" fill="#000"/>
<rect x="1204.09" y="19.20" width="3.80" height="8.00" fill="#000"/>
<rect x="1228.42" y="549.00" width="3.80" height="8.00" fill="#000"/>
<rect x="1228.42" y="19.20" width="3.80" height="8.00" fill="#000"/>
<rect x="1252.75" y="541.00" width="3.80" height="16.00" fill="#000"/>
<rect x="1252.75" y="19.20" width="3.80" height="16.00" fill="#000"/>
<rect x="1277.08" y="549.00" width="3.80" height="8.00" fill="#000"/>
<rect x="1277.08" y="19.20" width="3.80" height="8.00" fill="#000"/>
<rect x="1301.41" y="549.00" width="3.80" height="8.00" fill="#000"/>
<rect x="1301.41" y="19.20" width="3.80" height="8.00" fill="#000"/>
<rect x="1325.74" y="549.00" width="3.80" height="8.00" fill="#000"/>
<rect x="1325.74" y="19.20" width="3.80" height="8.00" fill="#000"/>
<rect x="1350.07" y="549.00" width="3.80" height="8.00" fill="#000"/>
<rect x="1350.07" y="19.20" width="3.80" height="8.00" fill="#000"/>
<rect x="1374.40" y="541.00" width="3.80" height="16.00" fill="#000"/>
<rect x="1374.40" y="19.20" width="3.80" height="16.00" fill="#000"/>
<rect x="1398.73" y="549.00" width="3.80" height="8.00" fill="#000"/>
<rect x="1398.73" y="19.20" width="3.80" height="8.00" fill="#000"/>
<rect x="1423.06" y="549.00" width="3.80" height="8.00" fill="#000"/>
<rect x="1423.06" y="19.20" width="3.80" height="8.00" fill="#000"/>
<rect x="1447.39" y="549.00" width="3.80" height="8.00" fill="#000"/>
<rect x="1447.39" y="19.20" width="3.80" height="8.00" fill="#000"/>
<rect x="1096.00" y="17.20" width="4.00" height="541.80" fill="#FF8000"/>
<rect x="1098.00" y="555.10" width="16.00" height="3.80" fill="#FF8000"/>
<rect x="1098.00" y="521.49" width="8.00" height="3.80" fill="#FF8000"/>
<rect x="1098.00" y="487.88" width="8.00" height="3.80" fill="#FF8000"/>
<rect x="1098.00" y="454.27" width="8.00" height="3.80" fill="#FF8000"/>
<rect x="1098.00" y="420.66" width="16.00" height="3.80" fill="#FF8000"/>
<rect x="1098.00" y="387.04" width="8.00" height="3.80" fill="#FF8000"/>
<rect x="1098.00" y="353.43" width="8.00" height="3.80" fill="#FF8000"/>
<rect x="1098.00" y="319.82" width="8.00" height="3.80" fill="#FF8000"/>
<rect x="1098.00" y="286.21" width="16.00" height="3.80" fill="#FF8000"/>
<rect x="1098.00" y="252.60" width="8.00" height="3.80" fill="#FF8000"/>
<rect x="1098.00" y="218.99" width="8.00" height="3.80" fill="#FF8000"/>
<rect x="1098.00" y="185.38" width="8.00" height="3.80" fill="#FF8000"/>
<rect x="1098.00" y="151.77" width="16.00" height="3.80" fill="#FF8000"/>
<rect x="1098.00" y="118.15" width="8.00" height="3.80" fill="#FF8000"/>
<rect x="1098.00" y="84.54" width="8.00" height="3.80" fill="#FF8000"/>
<rect x="1098.00" y="50.93" width="8.00" height="3.80" fill="#FF8000"/>
<rect x="1098.00" y="17.32" width="16.00" height="3.80" fill="#FF8000"/>
<rect x="1465.00" y="17.20" width="4.00" height="541.80" fill="#0000FF"/>
<rect x="1459.00" y="543.40" width="8.00" height="3.80" fill="#0000FF"/>
<rect x="1459.00" y="519.45" width="8.00" height="3.80" fill="#0000FF"/>
<rect x="1451.00" y="495.50" width="16.00" height="3.80" fill="#0000FF"/>
<rect x="1459.00" y="471.55" width="8.00" height="3.80" fill="#0000FF"/>
<rect x="1459.00" y="447.60" width="8.00" height="3.80" fill="#0000FF"/>
<rect x="1459.00" y="423.65" width="8.00" height="3.80" fill="#0000FF"/>
<rect x="1459.00" y="399.70" width="8.00" height="3.80" fill="#0000FF"/>
<rect x="1451.00" y="375.75" width="16.00" height="3.80" fill="#0000FF"/>
<rect x="1459.00" y="351.80" width="8.00" height="3.80" fill="#0000FF"/>
<rect x="1459.00" y="327.85" width="8.00" height="3.80" fill="#0000FF"/>
<rect x="1459.00" y="303.90" width="8.00" height="3.80" fill="#0000FF"/>
<rect x="1459.00" y="279.95" width="8.00" height="3.80" fill="#0000FF"/>
<rect x="1451.00" y="256.00" width="16.00" height="3.80" fill="#0000FF"/>
<rect x="1459.00" y="232.05" width="8.00" height="3.80" fill="#0000FF"/>
<rect x="1459.00" y="208.10" width="8.00" height="3.80" fill="#0000FF"/>
<rect x="1459.00" y="184.15" width="8.00" height="3.80" fill="#0000FF"/>
<rect x="1459.00" y="160.20" width="8.00" height="3.80" fill="#0000FF"/>
<rect x="1451.00" y="136.25" width="16.00" height="3.80" fill="#0000FF"/>
<rect x="1459.00" y="112.30" width="8.00" height="3.80" fill="#0000FF"/>
<rect x="1459.00" y="88.35" width="8.00" height="3.80" fill="#0000FF"/>
<rect x="1459.00" y="64.40" width="8.00" height="3.80" fill="#0000FF"/>
<rect x="1459.00" y="40.45" width="8.00" height="3.80" fill="#0000FF"/>
<rect x="1451.00" y="16.50" width="16.00" height="3.80" fill="#0000FF"/>
<text x="1133.0" y="596.5" text-anchor="middle" font-size="36">2.050</text>
<text x="1254.7" y="596.5" text-anchor="middle" font-size="36">2.055</text>
<text x="1376.3" y="596.5" text-anchor="middle" font-size="36">2.060</text>
<text x="1087.5" y="567.7" text-anchor="end" font-size="36" fill="#FF8000">0</text>
<text x="1087.5" y="433.3" text-anchor="end" font-size="36" fill="#FF8000">15</text>
<text x="1087.5" y="298.8" text-anchor="end" font-size="36" fill="#FF8000">30</text>
<text x="1087.5" y="164.4" text-anchor="end" font-size="36" fill="#FF8000">45</text>
<text x="1087.5" y="29.9" text-anchor="end" font-size="36" fill="#FF8000">60</text>
<text x="1479.4" y="508.1" font-size="36" fill="#0000FF">0</text>
<text x="1479.4" y="388.3" font-size="36" fill="#0000FF">5</text>
<text x="1479.4" y="268.6" font-size="36" fill="#0000FF">10</text>
<text x="1479.4" y="148.8" font-size="36" fill="#0000FF">15</text>
<text x="1479.4" y="29.1" font-size="36" fill="#0000FF">20</text>
<text x="1115.5" y="67.5" font-size="38">(c)</text>
<text x="1445.5" y="78.4" text-anchor="end" font-size="43.5" font-weight="bold">WS<tspan font-size="29" dy="11.5">2</tspan></text>
<clipPath id="clip3"><rect x="1591" y="19.2" width="369" height="537.8"/></clipPath>
<g clip-path="url(#clip3)">
<path d="M1589.0,454.1 L1590.0,453.8 L1591.0,453.5 L1592.0,453.2 L1593.0,452.9 L1594.0,452.6 L1595.0,452.3 L1596.0,452.0 L1597.0,451.7 L1598.0,451.4 L1599.0,451.1 L1600.0,450.8 L1601.0,450.5 L1602.0,450.1 L1603.0,449.8 L1604.0,449.5 L1605.0,449.1 L1606.0,448.8 L1607.0,448.4 L1608.0,448.1 L1609.0,447.7 L1610.0,447.4 L1611.0,447.0 L1612.0,446.6 L1613.0,446.2 L1614.0,445.9 L1615.0,445.5 L1616.0,445.1 L1617.0,444.7 L1618.0,444.3 L1619.0,443.9 L1620.0,443.4 L1621.0,443.0 L1622.0,442.6 L1623.0,442.1 L1624.0,441.7 L1625.0,441.3 L1626.0,440.8 L1627.0,440.3 L1628.0,439.9 L1629.0,439.4 L1630.0,438.9 L1631.0,438.4 L1632.0,437.9 L1633.0,437.4 L1634.0,436.9 L1635.0,436.4 L1636.0,435.9 L1637.0,435.4 L1638.0,434.8 L1639.0,434.3 L1640.0,433.7 L1641.0,433.2 L1642.0,432.6 L1643.0,432.0 L1644.0,431.4 L1645.0,430.8 L1646.0,430.2 L1647.0,429.6 L1648.0,429.0 L1649.0,428.3 L1650.0,427.7 L1651.0,427.0 L1652.0,426.4 L1653.0,425.7 L1654.0,425.0 L1655.0,424.3 L1656.0,423.6 L1657.0,422.9 L1658.0,422.1 L1659.0,421.4 L1660.0,420.6 L1661.0,419.9 L1662.0,419.1 L1663.0,418.3 L1664.0,417.5 L1665.0,416.6 L1666.0,415.8 L1667.0,415.0 L1668.0,414.1 L1669.0,413.2 L1670.0,412.3 L1671.0,411.4 L1672.0,410.5 L1673.0,409.6 L1674.0,408.6 L1675.0,407.6 L1676.0,406.6 L1677.0,405.6 L1678.0,404.6 L1679.0,403.6 L1680.0,402.5 L1681.0,401.4 L1682.0,400.3 L1683.0,399.2 L1684.0,398.1 L1685.0,396.9 L1686.0,395.7 L1687.0,394.5 L1688.0,393.3 L1689.0,392.0 L1690.0,390.7 L1691.0,389.4 L1692.0,388.1 L1693.0,386.8 L1694.0,385.4 L1695.0,384.0 L1696.0,382.6 L1697.0,381.1 L1698.0,379.6 L1699.0,378.1 L1700.0,376.5 L1701.0,375.0 L1702.0,373.3 L1703.0,371.7 L1704.0,370.0 L1705.0,368.3 L1706.0,366.6 L1707.0,364.8 L1708.0,363.0 L1709.0,361.1 L1710.0,359.2 L1711.0,357.3 L1712.0,355.4 L1713.0,353.3 L1714.0,351.3 L1715.0,349.2 L1716.0,347.1 L1717.0,344.9 L1718.0,342.7 L1719.0,340.4 L1720.0,338.1 L1721.0,335.8 L1722.0,333.4 L1723.0,330.9 L1724.0,328.4 L1725.0,325.9 L1726.0,323.3 L1727.0,320.7 L1728.0,318.0 L1729.0,315.2 L1730.0,312.4 L1731.0,309.6 L1732.0,306.7 L1733.0,303.7 L1734.0,300.7 L1735.0,297.6 L1736.0,294.5 L1737.0,291.3 L1738.0,288.1 L1739.0,284.8 L1740.0,281.5 L1741.0,278.1 L1742.0,274.7 L1743.0,271.2 L1744.0,267.6 L1745.0,264.0 L1746.0,260.3 L1747.0,256.6 L1748.0,252.9 L1749.0,249.1 L1750.0,245.2 L1751.0,241.3 L1752.0,237.3 L1753.0,233.3 L1754.0,229.3 L1755.0,225.2 L1756.0,221.0 L1757.0,216.9 L1758.0,212.7 L1759.0,208.4 L1760.0,204.1 L1761.0,199.8 L1762.0,195.5 L1763.0,191.2 L1764.0,186.8 L1765.0,182.4 L1766.0,178.0 L1767.0,173.6 L1768.0,169.2 L1769.0,164.8 L1770.0,160.4 L1771.0,156.0 L1772.0,151.6 L1773.0,147.3 L1774.0,143.0 L1775.0,138.7 L1776.0,134.5 L1777.0,130.3 L1778.0,126.2 L1779.0,122.1 L1780.0,118.1 L1781.0,114.2 L1782.0,110.4 L1783.0,106.6 L1784.0,103.0 L1785.0,99.5 L1786.0,96.1 L1787.0,92.8 L1788.0,89.7 L1789.0,86.7 L1790.0,83.9 L1791.0,81.2 L1792.0,78.7 L1793.0,76.3 L1794.0,74.2 L1795.0,72.2 L1796.0,70.4 L1797.0,68.8 L1798.0,67.4 L1799.0,66.2 L1800.0,65.2 L1801.0,64.4 L1802.0,63.8 L1803.0,63.5 L1804.0,63.3 L1805.0,63.4 L1806.0,63.6 L1807.0,64.1 L1808.0,64.8 L1809.0,65.6 L1810.0,66.7 L1811.0,67.9 L1812.0,69.4 L1813.0,71.0 L1814.0,72.8 L1815.0,74.8 L1816.0,76.9 L1817.0,79.2 L1818.0,81.6 L1819.0,84.2 L1820.0,86.9 L1821.0,89.8 L1822.0,92.8 L1823.0,95.9 L1824.0,99.1 L1825.0,102.4 L1826.0,105.8 L1827.0,109.3 L1828.0,112.9 L1829.0,116.6 L1830.0,120.3 L1831.0,124.1 L1832.0,128.0 L1833.0,131.9 L1834.0,135.9 L1835.0,139.9 L1836.0,144.0 L1837.0,148.0 L1838.0,152.1 L1839.0,156.3 L1840.0,160.4 L1841.0,164.6 L1842.0,168.8 L1843.0,172.9 L1844.0,177.1 L1845.0,181.3 L1846.0,185.4 L1847.0,189.6 L1848.0,193.7 L1849.0,197.9 L1850.0,202.0 L1851.0,206.1 L1852.0,210.1 L1853.0,214.2 L1854.0,218.2 L1855.0,222.2 L1856.0,226.1 L1857.0,230.0 L1858.0,233.9 L1859.0,237.7 L1860.0,241.5 L1861.0,245.3 L1862.0,249.0 L1863.0,252.6 L1864.0,256.3 L1865.0,259.8 L1866.0,263.4 L1867.0,266.8 L1868.0,270.3 L1869.0,273.7 L1870.0,277.0 L1871.0,280.3 L1872.0,283.6 L1873.0,286.8 L1874.0,289.9 L1875.0,293.0 L1876.0,296.1 L1877.0,299.1 L1878.0,302.0 L1879.0,304.9 L1880.0,307.8 L1881.0,310.6 L1882.0,313.4 L1883.0,316.1 L1884.0,318.8 L1885.0,321.4 L1886.0,324.0 L1887.0,326.5 L1888.0,329.0 L1889.0,331.5 L1890.0,333.9 L1891.0,336.3 L1892.0,338.6 L1893.0,340.9 L1894.0,343.1 L1895.0,345.3 L1896.0,347.5 L1897.0,349.6 L1898.0,351.7 L1899.0,353.8 L1900.0,355.8 L1901.0,357.8 L1902.0,359.7 L1903.0,361.6 L1904.0,363.5 L1905.0,365.4 L1906.0,367.2 L1907.0,369.0 L1908.0,370.7 L1909.0,372.4 L1910.0,374.1 L1911.0,375.8 L1912.0,377.4 L1913.0,379.0 L1914.0,380.6 L1915.0,382.1 L1916.0,383.7 L1917.0,385.1 L1918.0,386.6 L1919.0,388.1 L1920.0,389.5 L1921.0,390.9 L1922.0,392.3 L1923.0,393.6 L1924.0,394.9 L1925.0,396.2 L1926.0,397.5 L1927.0,398.8 L1928.0,400.0 L1929.0,401.3 L1930.0,402.5 L1931.0,403.6 L1932.0,404.8 L1933.0,406.0 L1934.0,407.1 L1935.0,408.2 L1936.0,409.3 L1937.0,410.4 L1938.0,411.4 L1939.0,412.5 L1940.0,413.5 L1941.0,414.5 L1942.0,415.5 L1943.0,416.5 L1944.0,417.4 L1945.0,418.4 L1946.0,419.3 L1947.0,420.2 L1948.0,421.1 L1949.0,422.0 L1950.0,422.9 L1951.0,423.8 L1952.0,424.6 L1953.0,425.5 L1954.0,426.3 L1955.0,427.1 L1956.0,427.9 L1957.0,428.7 L1958.0,429.5 L1959.0,430.3 L1960.0,431.0 L1961.0,431.8 L1962.0,432.5" fill="none" stroke="#000" stroke-width="3.8" stroke-linejoin="round"/>
<path d="M1589.0,519.2 L1590.0,519.0 L1591.0,518.9 L1592.0,518.8 L1593.0,518.7 L1594.0,518.6 L1595.0,518.5 L1596.0,518.3 L1597.0,518.2 L1598.0,518.1 L1599.0,518.0 L1600.0,517.9 L1601.0,517.7 L1602.0,517.6 L1603.0,517.5 L1604.0,517.3 L1605.0,517.2 L1606.0,517.1 L1607.0,516.9 L1608.0,516.8 L1609.0,516.6 L1610.0,516.5 L1611.0,516.3 L1612.0,516.2 L1613.0,516.0 L1614.0,515.9 L1615.0,515.7 L1616.0,515.5 L1617.0,515.4 L1618.0,515.2 L1619.0,515.0 L1620.0,514.9 L1621.0,514.7 L1622.0,514.5 L1623.0,514.3 L1624.0,514.1 L1625.0,514.0 L1626.0,513.8 L1627.0,513.6 L1628.0,513.4 L1629.0,513.2 L1630.0,513.0 L1631.0,512.7 L1632.0,512.5 L1633.0,512.3 L1634.0,512.1 L1635.0,511.9 L1636.0,511.6 L1637.0,511.4 L1638.0,511.1 L1639.0,510.9 L1640.0,510.6 L1641.0,510.4 L1642.0,510.1 L1643.0,509.8 L1644.0,509.6 L1645.0,509.3 L1646.0,509.0 L1647.0,508.7 L1648.0,508.4 L1649.0,508.1 L1650.0,507.8 L1651.0,507.5 L1652.0,507.1 L1653.0,506.8 L1654.0,506.5 L1655.0,506.1 L1656.0,505.7 L1657.0,505.4 L1658.0,505.0 L1659.0,504.6 L1660.0,504.2 L1661.0,503.8 L1662.0,503.4 L1663.0,503.0 L1664.0,502.6 L1665.0,502.1 L1666.0,501.7 L1667.0,501.2 L1668.0,500.8 L1669.0,500.3 L1670.0,499.8 L1671.0,499.3 L1672.0,498.8 L1673.0,498.2 L1674.0,497.7 L1675.0,497.1 L1676.0,496.6 L1677.0,496.0 L1678.0,495.4 L1679.0,494.8 L1680.0,494.2 L1681.0,493.5 L1682.0,492.9 L1683.0,492.2 L1684.0,491.5 L1685.0,490.8 L1686.0,490.1 L1687.0,489.4 L1688.0,488.7 L1689.0,487.9 L1690.0,487.1 L1691.0,486.3 L1692.0,485.5 L1693.0,484.7 L1694.0,483.8 L1695.0,483.0 L1696.0,482.1 L1697.0,481.2 L1698.0,480.2 L1699.0,479.3 L1700.0,478.3 L1701.0,477.4 L1702.0,476.3 L1703.0,475.3 L1704.0,474.3 L1705.0,473.2 L1706.0,472.1 L1707.0,471.0 L1708.0,469.9 L1709.0,468.7 L1710.0,467.5 L1711.0,466.3 L1712.0,465.1 L1713.0,463.8 L1714.0,462.6 L1715.0,461.3 L1716.0,459.9 L1717.0,458.6 L1718.0,457.2 L1719.0,455.8 L1720.0,454.4 L1721.0,453.0 L1722.0,451.5 L1723.0,450.0 L1724.0,448.5 L1725.0,446.9 L1726.0,445.4 L1727.0,443.8 L1728.0,442.2 L1729.0,440.5 L1730.0,438.9 L1731.0,437.2 L1732.0,435.4 L1733.0,433.7 L1734.0,431.9 L1735.0,430.2 L1736.0,428.3 L1737.0,426.5 L1738.0,424.6 L1739.0,422.8 L1740.0,420.9 L1741.0,418.9 L1742.0,417.0 L1743.0,415.0 L1744.0,413.0 L1745.0,411.0 L1746.0,409.0 L1747.0,406.9 L1748.0,404.8 L1749.0,402.7 L1750.0,400.6 L1751.0,398.5 L1752.0,396.4 L1753.0,394.2 L1754.0,392.1 L1755.0,389.9 L1756.0,387.7 L1757.0,385.5 L1758.0,383.3 L1759.0,381.1 L1760.0,378.8 L1761.0,376.6 L1762.0,374.4 L1763.0,372.1 L1764.0,369.9 L1765.0,367.7 L1766.0,365.4 L1767.0,363.2 L1768.0,361.0 L1769.0,358.8 L1770.0,356.6 L1771.0,354.4 L1772.0,352.3 L1773.0,350.1 L1774.0,348.0 L1775.0,345.9 L1776.0,343.8 L1777.0,341.8 L1778.0,339.8 L1779.0,337.8 L1780.0,335.9 L1781.0,334.0 L1782.0,332.1 L1783.0,330.3 L1784.0,328.6 L1785.0,326.9 L1786.0,325.2 L1787.0,323.7 L1788.0,322.1 L1789.0,320.7 L1790.0,319.3 L1791.0,318.0 L1792.0,316.7 L1793.0,315.5 L1794.0,314.4 L1795.0,313.4 L1796.0,312.5 L1797.0,311.6 L1798.0,310.9 L1799.0,310.2 L1800.0,309.6 L1801.0,309.1 L1802.0,308.7 L1803.0,308.4 L1804.0,308.1 L1805.0,308.0 L1806.0,308.0 L1807.0,308.0 L1808.0,308.2 L1809.0,308.5 L1810.0,308.8 L1811.0,309.3 L1812.0,309.8 L1813.0,310.5 L1814.0,311.2 L1815.0,312.0 L1816.0,313.0 L1817.0,314.0 L1818.0,315.0 L1819.0,316.2 L1820.0,317.5 L1821.0,318.8 L1822.0,320.2 L1823.0,321.7 L1824.0,323.2 L1825.0,324.8 L1826.0,326.5 L1827.0,328.3 L1828.0,330.0 L1829.0,331.9 L1830.0,333.8 L1831.0,335.7 L1832.0,337.7 L1833.0,339.7 L1834.0,341.8 L1835.0,343.8 L1836.0,346.0 L1837.0,348.1 L1838.0,350.3 L1839.0,352.5 L1840.0,354.7 L1841.0,356.9 L1842.0,359.2 L1843.0,361.4 L1844.0,363.7 L1845.0,366.0 L1846.0,368.3 L1847.0,370.6 L1848.0,372.9 L1849.0,375.1 L1850.0,377.4 L1851.0,379.7 L1852.0,382.0 L1853.0,384.2 L1854.0,386.5 L1855.0,388.8 L1856.0,391.0 L1857.0,393.2 L1858.0,395.4 L1859.0,397.6 L1860.0,399.8 L1861.0,402.0 L1862.0,404.1 L1863.0,406.2 L1864.0,408.3 L1865.0,410.4 L1866.0,412.5 L1867.0,414.5 L1868.0,416.6 L1869.0,418.6 L1870.0,420.5 L1871.0,422.5 L1872.0,424.4 L1873.0,426.3 L1874.0,428.2 L1875.0,430.0 L1876.0,431.9 L1877.0,433.7 L1878.0,435.5 L1879.0,437.2 L1880.0,438.9 L1881.0,440.6 L1882.0,442.3 L1883.0,444.0 L1884.0,445.6 L1885.0,447.2 L1886.0,448.7 L1887.0,450.3 L1888.0,451.8 L1889.0,453.3 L1890.0,454.8 L1891.0,456.2 L1892.0,457.6 L1893.0,459.0 L1894.0,460.4 L1895.0,461.7 L1896.0,463.0 L1897.0,464.3 L1898.0,465.6 L1899.0,466.8 L1900.0,468.0 L1901.0,469.2 L1902.0,470.4 L1903.0,471.5 L1904.0,472.6 L1905.0,473.7 L1906.0,474.8 L1907.0,475.9 L1908.0,476.9 L1909.0,477.9 L1910.0,478.9 L1911.0,479.8 L1912.0,480.8 L1913.0,481.7 L1914.0,482.6 L1915.0,483.5 L1916.0,484.4 L1917.0,485.2 L1918.0,486.0 L1919.0,486.8 L1920.0,487.6 L1921.0,488.4 L1922.0,489.2 L1923.0,489.9 L1924.0,490.6 L1925.0,491.3 L1926.0,492.0 L1927.0,492.7 L1928.0,493.3 L1929.0,494.0 L1930.0,494.6 L1931.0,495.2 L1932.0,495.8 L1933.0,496.4 L1934.0,497.0 L1935.0,497.5 L1936.0,498.1 L1937.0,498.6 L1938.0,499.1 L1939.0,499.6 L1940.0,500.1 L1941.0,500.6 L1942.0,501.0 L1943.0,501.5 L1944.0,501.9 L1945.0,502.4 L1946.0,502.8 L1947.0,503.2 L1948.0,503.6 L1949.0,504.0 L1950.0,504.4 L1951.0,504.8 L1952.0,505.2 L1953.0,505.5 L1954.0,505.9 L1955.0,506.2 L1956.0,506.6 L1957.0,506.9 L1958.0,507.2 L1959.0,507.5 L1960.0,507.8 L1961.0,508.1 L1962.0,508.4" fill="none" stroke="#000" stroke-width="3.8" stroke-linejoin="round"/>
<g fill="#fff" stroke="#FF8000" stroke-width="3.2">
<circle cx="1958.0" cy="518.5" r="5.3"/>
<circle cx="1954.2" cy="515.4" r="5.3"/>
<circle cx="1950.5" cy="511.7" r="5.3"/>
<circle cx="1945.6" cy="508.1" r="5.3"/>
<circle cx="1940.7" cy="508.1" r="5.3"/>
<circle cx="1935.8" cy="504.4" r="5.3"/>
<circle cx="1930.9" cy="500.7" r="5.3"/>
<circle cx="1926.0" cy="497.0" r="5.3"/>
<circle cx="1921.0" cy="494.5" r="5.3"/>
<circle cx="1917.4" cy="490.9" r="5.3"/>
<circle cx="1913.7" cy="483.5" r="5.3"/>
<circle cx="1908.8" cy="478.6" r="5.3"/>
<circle cx="1902.6" cy="473.7" r="5.3"/>
<circle cx="1897.7" cy="467.5" r="5.3"/>
<circle cx="1892.8" cy="462.6" r="5.3"/>
<circle cx="1889.1" cy="457.7" r="5.3"/>
<circle cx="1885.4" cy="452.8" r="5.3"/>
<circle cx="1881.7" cy="445.4" r="5.3"/>
<circle cx="1877.2" cy="434.9" r="5.3"/>
<circle cx="1873.8" cy="423.4" r="5.3"/>
<circle cx="1870.3" cy="415.4" r="5.3"/>
<circle cx="1866.9" cy="409.6" r="5.3"/>
<circle cx="1862.3" cy="403.9" r="5.3"/>
<circle cx="1858.8" cy="393.5" r="5.3"/>
<circle cx="1856.5" cy="385.5" r="5.3"/>
<circle cx="1850.8" cy="384.3" r="5.3"/>
<circle cx="1848.5" cy="370.5" r="5.3"/>
<circle cx="1843.9" cy="365.5" r="5.3"/>
<circle cx="1841.6" cy="352.1" r="5.3"/>
<circle cx="1837.0" cy="351.0" r="5.3"/>
<circle cx="1832.4" cy="344.1" r="5.3"/>
<circle cx="1828.9" cy="334.9" r="5.3"/>
<circle cx="1826.6" cy="324.5" r="5.3"/>
<circle cx="1822.0" cy="315.3" r="5.3"/>
<circle cx="1817.4" cy="321.1" r="5.3"/>
<circle cx="1812.8" cy="313.0" r="5.3"/>
<circle cx="1808.2" cy="310.2" r="5.3"/>
<circle cx="1803.2" cy="306.6" r="5.3"/>
<circle cx="1797.9" cy="313.0" r="5.3"/>
<circle cx="1791.7" cy="314.2" r="5.3"/>
<circle cx="1787.5" cy="326.8" r="5.3"/>
<circle cx="1780.6" cy="328.0" r="5.3"/>
<circle cx="1777.2" cy="337.2" r="5.3"/>
<circle cx="1773.7" cy="350.3" r="5.3"/>
<circle cx="1769.1" cy="353.3" r="5.3"/>
<circle cx="1766.8" cy="370.5" r="5.3"/>
<circle cx="1762.2" cy="370.5" r="5.3"/>
<circle cx="1758.8" cy="379.7" r="5.3"/>
<circle cx="1754.2" cy="387.8" r="5.3"/>
<circle cx="1751.9" cy="401.6" r="5.3"/>
<circle cx="1747.1" cy="404.9" r="5.3"/>
<circle cx="1744.6" cy="416.0" r="5.3"/>
<circle cx="1739.7" cy="418.4" r="5.3"/>
<circle cx="1736.7" cy="430.7" r="5.3"/>
<circle cx="1734.8" cy="434.4" r="5.3"/>
<circle cx="1731.1" cy="440.5" r="5.3"/>
<circle cx="1727.4" cy="446.6" r="5.3"/>
<circle cx="1722.5" cy="451.5" r="5.3"/>
<circle cx="1717.6" cy="457.7" r="5.3"/>
<circle cx="1712.7" cy="462.6" r="5.3"/>
<circle cx="1709.0" cy="468.7" r="5.3"/>
<circle cx="1702.9" cy="472.4" r="5.3"/>
<circle cx="1700.4" cy="482.2" r="5.3"/>
<circle cx="1695.5" cy="483.4" r="5.3"/>
<circle cx="1690.6" cy="484.7" r="5.3"/>
<circle cx="1684.5" cy="488.3" r="5.3"/>
<circle cx="1680.8" cy="496.9" r="5.3"/>
<circle cx="1674.7" cy="492.0" r="5.3"/>
<circle cx="1672.2" cy="494.5" r="5.3"/>
<circle cx="1666.1" cy="498.2" r="5.3"/>
<circle cx="1661.2" cy="503.1" r="5.3"/>
<circle cx="1655.0" cy="500.6" r="5.3"/>
<circle cx="1648.9" cy="505.5" r="5.3"/>
<circle cx="1644.0" cy="508.0" r="5.3"/>
<circle cx="1639.1" cy="509.2" r="5.3"/>
<circle cx="1634.2" cy="510.4" r="5.3"/>
<circle cx="1628.0" cy="511.7" r="5.3"/>
<circle cx="1621.9" cy="519.0" r="5.3"/>
<circle cx="1617.0" cy="515.3" r="5.3"/>
<circle cx="1612.1" cy="517.8" r="5.3"/>
<circle cx="1607.2" cy="519.0" r="5.3"/>
<circle cx="1602.3" cy="520.2" r="5.3"/>
<circle cx="1597.4" cy="521.5" r="5.3"/>
<circle cx="1592.5" cy="522.7" r="5.3"/>
</g>
<g fill="#fff" stroke="#0000FF" stroke-width="3.2">
<circle cx="1608.3" cy="405.6" r="5.3"/>
<circle cx="1611.5" cy="401.3" r="5.3"/>
<circle cx="1615.8" cy="398.1" r="5.3"/>
<circle cx="1620.1" cy="396.0" r="5.3"/>
<circle cx="1624.4" cy="397.1" r="5.3"/>
<circle cx="1629.7" cy="391.7" r="5.3"/>
<circle cx="1634.0" cy="391.7" r="5.3"/>
<circle cx="1638.3" cy="389.5" r="5.3"/>
<circle cx="1643.7" cy="388.5" r="5.3"/>
<circle cx="1648.0" cy="383.1" r="5.3"/>
<circle cx="1651.2" cy="378.8" r="5.3"/>
<circle cx="1654.4" cy="374.5" r="5.3"/>
<circle cx="1660.9" cy="371.3" r="5.3"/>
<circle cx="1665.2" cy="364.8" r="5.3"/>
<circle cx="1669.5" cy="355.6" r="5.3"/>
<circle cx="1672.7" cy="346.6" r="5.3"/>
<circle cx="1678.1" cy="349.2" r="5.3"/>
<circle cx="1680.2" cy="342.7" r="5.3"/>
<circle cx="1684.5" cy="341.2" r="5.3"/>
<circle cx="1688.8" cy="336.3" r="5.3"/>
<circle cx="1692.0" cy="324.0" r="5.3"/>
<circle cx="1695.2" cy="316.5" r="5.3"/>
<circle cx="1699.5" cy="311.1" r="5.3"/>
<circle cx="1703.4" cy="304.1" r="5.3"/>
<circle cx="1707.0" cy="296.1" r="5.3"/>
<circle cx="1713.5" cy="303.2" r="5.3"/>
<circle cx="1716.7" cy="288.2" r="5.3"/>
<circle cx="1721.0" cy="284.3" r="5.3"/>
<circle cx="1726.5" cy="281.7" r="5.3"/>
<circle cx="1729.9" cy="274.3" r="5.3"/>
<circle cx="1734.1" cy="266.3" r="5.3"/>
<circle cx="1738.7" cy="264.6" r="5.3"/>
<circle cx="1741.4" cy="254.0" r="5.3"/>
<circle cx="1744.2" cy="233.3" r="5.3"/>
<circle cx="1747.2" cy="231.0" r="5.3"/>
<circle cx="1751.8" cy="224.8" r="5.3"/>
<circle cx="1755.2" cy="205.7" r="5.3"/>
<circle cx="1759.4" cy="186.8" r="5.3"/>
<circle cx="1763.3" cy="171.9" r="5.3"/>
<circle cx="1766.8" cy="181.8" r="5.3"/>
<circle cx="1769.5" cy="173.0" r="5.3"/>
<circle cx="1772.6" cy="154.3" r="5.3"/>
<circle cx="1776.5" cy="143.1" r="5.3"/>
<circle cx="1779.7" cy="146.3" r="5.3"/>
<circle cx="1783.0" cy="127.6" r="5.3"/>
<circle cx="1786.2" cy="114.1" r="5.3"/>
<circle cx="1791.1" cy="115.2" r="5.3"/>
<circle cx="1794.8" cy="117.8" r="5.3"/>
<circle cx="1797.5" cy="91.1" r="5.3"/>
<circle cx="1801.2" cy="74.4" r="5.3"/>
<circle cx="1804.4" cy="83.4" r="5.3"/>
<circle cx="1807.0" cy="61.9" r="5.3"/>
<circle cx="1810.9" cy="41.1" r="5.3"/>
<circle cx="1814.7" cy="50.8" r="5.3"/>
<circle cx="1818.4" cy="65.4" r="5.3"/>
<circle cx="1821.6" cy="83.0" r="5.3"/>
<circle cx="1825.9" cy="99.7" r="5.3"/>
<circle cx="1829.1" cy="110.9" r="5.3"/>
<circle cx="1831.9" cy="127.6" r="5.3"/>
<circle cx="1835.6" cy="128.1" r="5.3"/>
<circle cx="1838.8" cy="129.8" r="5.3"/>
<circle cx="1842.0" cy="147.8" r="5.3"/>
<circle cx="1845.6" cy="156.0" r="5.3"/>
<circle cx="1849.6" cy="175.3" r="5.3"/>
<circle cx="1853.1" cy="187.3" r="5.3"/>
<circle cx="1857.0" cy="212.6" r="5.3"/>
<circle cx="1860.7" cy="235.2" r="5.3"/>
<circle cx="1863.9" cy="243.2" r="5.3"/>
<circle cx="1867.6" cy="268.6" r="5.3"/>
<circle cx="1870.3" cy="288.1" r="5.3"/>
<circle cx="1873.8" cy="292.7" r="5.3"/>
<circle cx="1877.6" cy="312.6" r="5.3"/>
<circle cx="1881.2" cy="332.0" r="5.3"/>
<circle cx="1885.1" cy="344.4" r="5.3"/>
<circle cx="1887.7" cy="349.8" r="5.3"/>
<circle cx="1892.0" cy="352.6" r="5.3"/>
<circle cx="1895.4" cy="370.2" r="5.3"/>
<circle cx="1898.4" cy="380.5" r="5.3"/>
<circle cx="1901.2" cy="389.5" r="5.3"/>
<circle cx="1905.5" cy="392.8" r="5.3"/>
<circle cx="1908.7" cy="401.3" r="5.3"/>
<circle cx="1913.0" cy="403.5" r="5.3"/>
<circle cx="1917.3" cy="402.4" r="5.3"/>
<circle cx="1920.5" cy="407.1" r="5.3"/>
<circle cx="1922.7" cy="411.0" r="5.3"/>
<circle cx="1924.7" cy="413.5" r="5.3"/>
<circle cx="1928.1" cy="411.4" r="5.3"/>
<circle cx="1929.6" cy="416.0" r="5.3"/>
<circle cx="1932.4" cy="414.2" r="5.3"/>
<circle cx="1934.5" cy="420.9" r="5.3"/>
<circle cx="1936.2" cy="417.5" r="5.3"/>
<circle cx="1938.2" cy="427.0" r="5.3"/>
<circle cx="1943.1" cy="429.5" r="5.3"/>
<circle cx="1948.1" cy="433.2" r="5.3"/>
<circle cx="1951.7" cy="436.8" r="5.3"/>
<circle cx="1954.2" cy="441.7" r="5.3"/>
<circle cx="1955.4" cy="447.9" r="5.3"/>
</g>
</g>
<rect x="1589.00" y="17.20" width="373.00" height="4.00" fill="#000"/>
<rect x="1589.00" y="555.00" width="373.00" height="4.00" fill="#000"/>
<rect x="1593.96" y="549.00" width="3.80" height="8.00" fill="#000"/>
<rect x="1593.96" y="19.20" width="3.80" height="8.00" fill="#000"/>
<rect x="1618.52" y="549.00" width="3.80" height="8.00" fill="#000"/>
<rect x="1618.52" y="19.20" width="3.80" height="8.00" fill="#000"/>
<rect x="1643.08" y="549.00" width="3.80" height="8.00" fill="#000"/>
<rect x="1643.08" y="19.20" width="3.80" height="8.00" fill="#000"/>
<rect x="1667.64" y="549.00" width="3.80" height="8.00" fill="#000"/>
<rect x="1667.64" y="19.20" width="3.80" height="8.00" fill="#000"/>
<rect x="1692.20" y="541.00" width="3.80" height="16.00" fill="#000"/>
<rect x="1692.20" y="19.20" width="3.80" height="16.00" fill="#000"/>
<rect x="1716.76" y="549.00" width="3.80" height="8.00" fill="#000"/>
<rect x="1716.76" y="19.20" width="3.80" height="8.00" fill="#000"/>
<rect x="1741.32" y="549.00" width="3.80" height="8.00" fill="#000"/>
<rect x="1741.32" y="19.20" width="3.80" height="8.00" fill="#000"/>
<rect x="1765.88" y="549.00" width="3.80" height="8.00" fill="#000"/>
<rect x="1765.88" y="19.20" width="3.80" height="8.00" fill="#000"/>
<rect x="1790.44" y="549.00" width="3.80" height="8.00" fill="#000"/>
<rect x="1790.44" y="19.20" width="3.80" height="8.00" fill="#000"/>
<rect x="1815.00" y="541.00" width="3.80" height="16.00" fill="#000"/>
<rect x="1815.00" y="19.20" width="3.80" height="16.00" fill="#000"/>
<rect x="1839.56" y="549.00" width="3.80" height="8.00" fill="#000"/>
<rect x="1839.56" y="19.20" width="3.80" height="8.00" fill="#000"/>
<rect x="1864.12" y="549.00" width="3.80" height="8.00" fill="#000"/>
<rect x="1864.12" y="19.20" width="3.80" height="8.00" fill="#000"/>
<rect x="1888.68" y="549.00" width="3.80" height="8.00" fill="#000"/>
<rect x="1888.68" y="19.20" width="3.80" height="8.00" fill="#000"/>
<rect x="1913.24" y="549.00" width="3.80" height="8.00" fill="#000"/>
<rect x="1913.24" y="19.20" width="3.80" height="8.00" fill="#000"/>
<rect x="1937.80" y="541.00" width="3.80" height="16.00" fill="#000"/>
<rect x="1937.80" y="19.20" width="3.80" height="16.00" fill="#000"/>
<rect x="1589.00" y="17.20" width="4.00" height="541.80" fill="#FF8000"/>
<rect x="1591.00" y="554.90" width="16.00" height="3.80" fill="#FF8000"/>
<rect x="1591.00" y="526.62" width="8.00" height="3.80" fill="#FF8000"/>
<rect x="1591.00" y="498.35" width="8.00" height="3.80" fill="#FF8000"/>
<rect x="1591.00" y="470.07" width="8.00" height="3.80" fill="#FF8000"/>
<rect x="1591.00" y="441.80" width="16.00" height="3.80" fill="#FF8000"/>
<rect x="1591.00" y="413.52" width="8.00" height="3.80" fill="#FF8000"/>
<rect x="1591.00" y="385.25" width="8.00" height="3.80" fill="#FF8000"/>
<rect x="1591.00" y="356.97" width="8.00" height="3.80" fill="#FF8000"/>
<rect x="1591.00" y="328.70" width="16.00" height="3.80" fill="#FF8000"/>
<rect x="1591.00" y="300.42" width="8.00" height="3.80" fill="#FF8000"/>
<rect x="1591.00" y="272.15" width="8.00" height="3.80" fill="#FF8000"/>
<rect x="1591.00" y="243.87" width="8.00" height="3.80" fill="#FF8000"/>
<rect x="1591.00" y="215.60" width="16.00" height="3.80" fill="#FF8000"/>
<rect x="1591.00" y="187.32" width="8.00" height="3.80" fill="#FF8000"/>
<rect x="1591.00" y="159.05" width="8.00" height="3.80" fill="#FF8000"/>
<rect x="1591.00" y="130.77" width="8.00" height="3.80" fill="#FF8000"/>
<rect x="1591.00" y="102.50" width="16.00" height="3.80" fill="#FF8000"/>
<rect x="1591.00" y="74.22" width="8.00" height="3.80" fill="#FF8000"/>
<rect x="1591.00" y="45.95" width="8.00" height="3.80" fill="#FF8000"/>
<rect x="1591.00" y="17.67" width="8.00" height="3.80" fill="#FF8000"/>
<rect x="1958.00" y="17.20" width="4.00" height="541.80" fill="#0000FF"/>
<rect x="1952.00" y="545.82" width="8.00" height="3.80" fill="#0000FF"/>
<rect x="1952.00" y="526.62" width="8.00" height="3.80" fill="#0000FF"/>
<rect x="1952.00" y="507.41" width="8.00" height="3.80" fill="#0000FF"/>
<rect x="1952.00" y="488.20" width="8.00" height="3.80" fill="#0000FF"/>
<rect x="1944.00" y="469.00" width="16.00" height="3.80" fill="#0000FF"/>
<rect x="1952.00" y="449.80" width="8.00" height="3.80" fill="#0000FF"/>
<rect x="1952.00" y="430.59" width="8.00" height="3.80" fill="#0000FF"/>
<rect x="1952.00" y="411.38" width="8.00" height="3.80" fill="#0000FF"/>
<rect x="1952.00" y="392.18" width="8.00" height="3.80" fill="#0000FF"/>
<rect x="1944.00" y="372.98" width="16.00" height="3.80" fill="#0000FF"/>
<rect x="1952.00" y="353.77" width="8.00" height="3.80" fill="#0000FF"/>
<rect x="1952.00" y="334.56" width="8.00" height="3.80" fill="#0000FF"/>
<rect x="1952.00" y="315.36" width="8.00" height="3.80" fill="#0000FF"/>
<rect x="1952.00" y="296.16" width="8.00" height="3.80" fill="#0000FF"/>
<rect x="1944.00" y="276.95" width="16.00" height="3.80" fill="#0000FF"/>
<rect x="1952.00" y="257.75" width="8.00" height="3.80" fill="#0000FF"/>
<rect x="1952.00" y="238.54" width="8.00" height="3.80" fill="#0000FF"/>
<rect x="1952.00" y="219.34" width="8.00" height="3.80" fill="#0000FF"/>
<rect x="1952.00" y="200.13" width="8.00" height="3.80" fill="#0000FF"/>
<rect x="1944.00" y="180.92" width="16.00" height="3.80" fill="#0000FF"/>
<rect x="1952.00" y="161.72" width="8.00" height="3.80" fill="#0000FF"/>
<rect x="1952.00" y="142.52" width="8.00" height="3.80" fill="#0000FF"/>
<rect x="1952.00" y="123.31" width="8.00" height="3.80" fill="#0000FF"/>
<rect x="1952.00" y="104.10" width="8.00" height="3.80" fill="#0000FF"/>
<rect x="1944.00" y="84.90" width="16.00" height="3.80" fill="#0000FF"/>
<rect x="1952.00" y="65.70" width="8.00" height="3.80" fill="#0000FF"/>
<rect x="1952.00" y="46.49" width="8.00" height="3.80" fill="#0000FF"/>
<rect x="1952.00" y="27.29" width="8.00" height="3.80" fill="#0000FF"/>
<text x="1694.1" y="596.5" text-anchor="middle" font-size="36">1.720</text>
<text x="1816.9" y="596.5" text-anchor="middle" font-size="36">1.725</text>
<text x="1939.7" y="596.5" text-anchor="middle" font-size="36">1.730</text>
<text x="1578.3" y="567.5" text-anchor="end" font-size="36" fill="#FF8000">0</text>
<text x="1578.3" y="454.4" text-anchor="end" font-size="36" fill="#FF8000">20</text>
<text x="1578.3" y="341.3" text-anchor="end" font-size="36" fill="#FF8000">40</text>
<text x="1578.3" y="228.2" text-anchor="end" font-size="36" fill="#FF8000">60</text>
<text x="1578.3" y="115.1" text-anchor="end" font-size="36" fill="#FF8000">80</text>
<text x="1977.0" y="481.6" font-size="36" fill="#0000FF">0</text>
<text x="1977.0" y="385.6" font-size="36" fill="#0000FF">5</text>
<text x="1977.0" y="289.6" font-size="36" fill="#0000FF">10</text>
<text x="1977.0" y="193.5" font-size="36" fill="#0000FF">15</text>
<text x="1977.0" y="97.5" font-size="36" fill="#0000FF">20</text>
<text x="1617.5" y="67.5" font-size="38">(d)</text>
<text x="1939.5" y="78.4" text-anchor="end" font-size="43.5" font-weight="bold">WSe<tspan font-size="29" dy="11.5">2</tspan></text>
<g transform="translate(39.5,450) rotate(-90)" fill="#FF8000" font-size="40"><text x="0" y="0">PL counts (x10<tspan font-size="26" dy="-18">2</tspan><tspan dy="18">)</tspan></text></g>
<g transform="translate(2056,0) rotate(-90)" fill="#0000FF"><text x="-535" y="0" font-size="39.6">Integrated A</text><text x="-337" y="11.5" font-size="25">1</text><text x="-339.5" y="-11.5" font-size="34">′</text><text x="-313.5" y="0" font-size="39.4">intensity (arb. u.)</text></g>
<text x="1092.6" y="639.8" text-anchor="middle" font-size="39.7">Energy (eV)</text>
</svg></body></html>
